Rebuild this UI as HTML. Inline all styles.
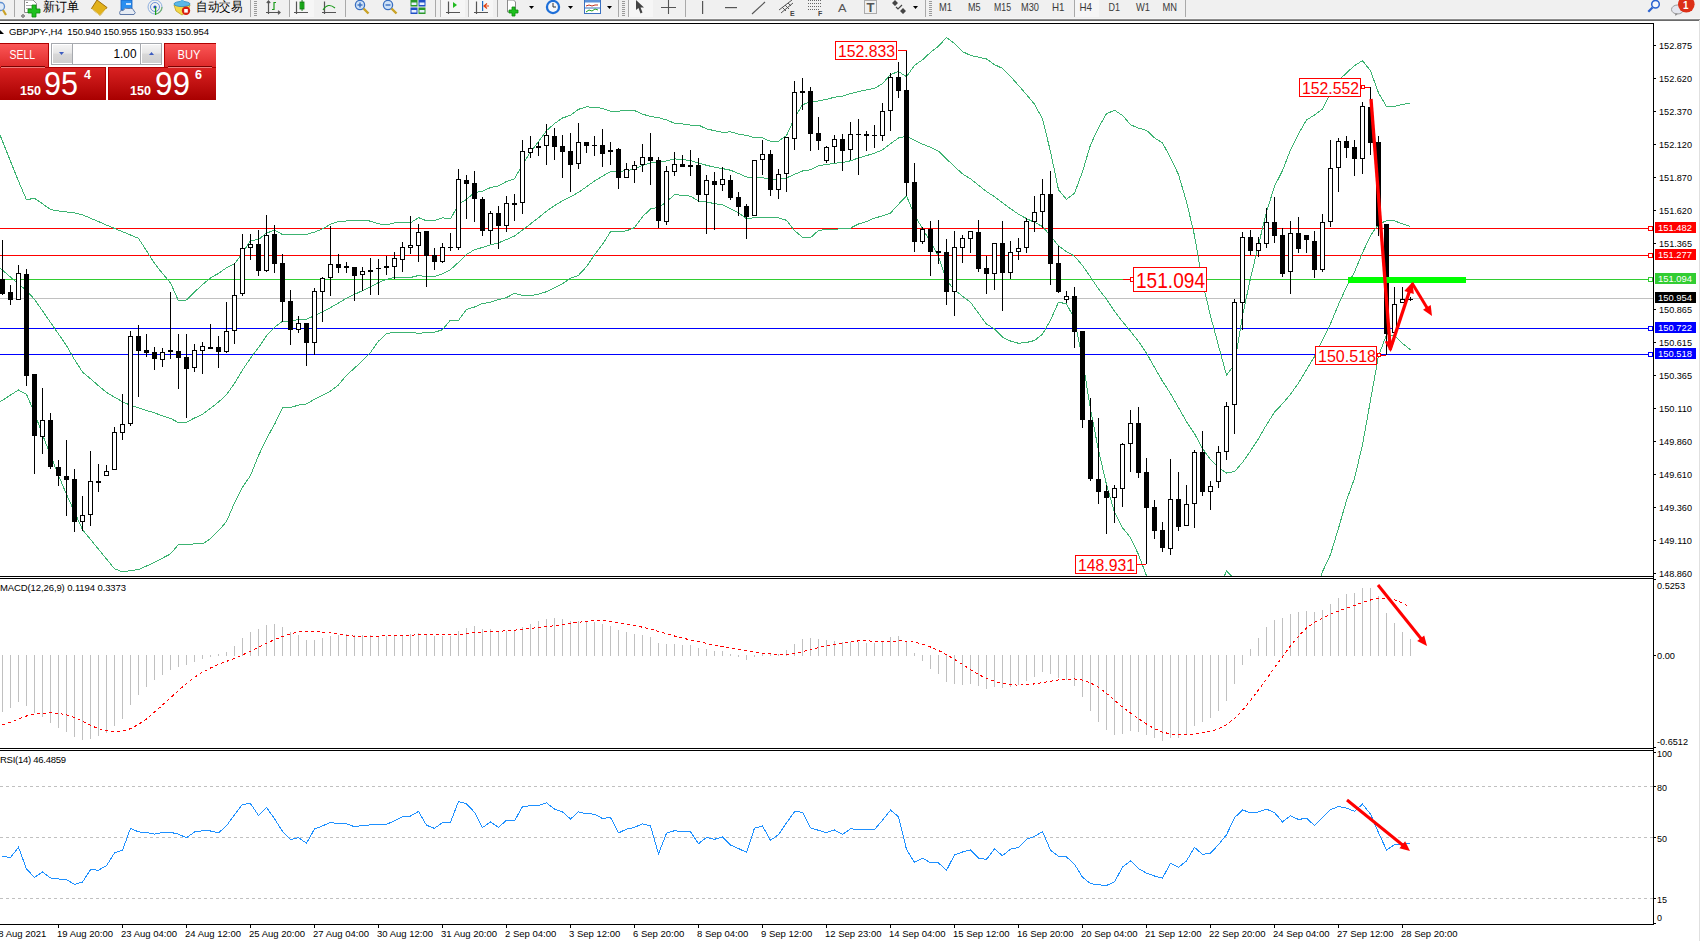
<!DOCTYPE html><html><head><meta charset="utf-8"><style>html,body{margin:0;padding:0;background:#fff;overflow:hidden;width:1700px;height:941px}svg{display:block}text{font-family:"Liberation Sans", sans-serif}</style></head><body>
<svg width="1700" height="941" viewBox="0 0 1700 941">
<defs><clipPath id="cm"><rect x="0" y="24" width="1653" height="552"/></clipPath><clipPath id="cd"><rect x="0" y="579" width="1653" height="169"/></clipPath><clipPath id="cr"><rect x="0" y="751" width="1653" height="173"/></clipPath><linearGradient id="gs" x1="0" y1="0" x2="0" y2="1"><stop offset="0" stop-color="#fb5656"/><stop offset="1" stop-color="#de2a2a"/></linearGradient><linearGradient id="gp" x1="0" y1="0" x2="0" y2="1"><stop offset="0" stop-color="#d92222"/><stop offset="1" stop-color="#a80000"/></linearGradient><linearGradient id="gb" x1="0" y1="0" x2="0" y2="1"><stop offset="0" stop-color="#f4f4f4"/><stop offset="0.45" stop-color="#e6e6e6"/><stop offset="0.5" stop-color="#d8d8d8"/><stop offset="1" stop-color="#cfcfcf"/></linearGradient></defs>
<rect x="0" y="0" width="1700" height="941" fill="#fff"/>
<g id="toolbar">
<rect x="0" y="0" width="1700" height="19" fill="#f0f0f0"/>
<rect x="0" y="18" width="1700" height="1" fill="#f6f6f6"/>
<rect x="0" y="19" width="1700" height="1" fill="#8c8c8c"/>
<rect x="0" y="20" width="1700" height="1" fill="#6a6a6a"/>
<g id="tb">
<!-- magnifier partial -->
<circle cx="0.5" cy="6.5" r="4" fill="#dfeaf7" stroke="#5f8fd0" stroke-width="1.3"/>
<line x1="3" y1="10" x2="6" y2="15" stroke="#c9a227" stroke-width="2.2"/>
<rect x="14" y="0" width="1" height="17" fill="#a9a9a9"/>
<!-- new order -->
<path d="M24.5,0 L33,0 L36.5,3.5 L36.5,12.5 L24.5,12.5 Z" fill="#fff" stroke="#8a8a8a" stroke-width="1"/>
<rect x="26" y="2" width="2" height="1" fill="#888"/><rect x="26" y="5" width="6" height="1" fill="#aaa"/><rect x="26" y="8" width="5" height="1" fill="#aaa"/>
<path d="M32,5 h4 v4 h4 v4 h-4 v4 h-4 v-4 h-4 v-4 h4 z" fill="#1ec01e" stroke="#0a8a0a" stroke-width="0.8"/>
<path d="M23,14.5 l1.5,1.5 l-1.5,1.5 l-1.5,-1.5 z" fill="none" stroke="#000" stroke-width="0.8"/>
<text x="43" y="10.5" font-size="12.5" fill="#000" textLength="36" lengthAdjust="spacingAndGlyphs">新订单</text>
<!-- gold book -->
<path d="M91.5,8.5 L97,0 L107,7.5 L100,15.5 Z" fill="#e2b21c" stroke="#a0700a" stroke-width="1"/>
<path d="M92,9 L100,15.5 L106,9" fill="none" stroke="#fff2b0" stroke-width="0.8"/>
<!-- cloud/server -->
<rect x="121" y="0" width="11" height="10" fill="#2b8ff0" stroke="#1560c0" stroke-width="0.8"/>
<rect x="126" y="3" width="5" height="2" fill="#cfe6ff"/>
<path d="M120,14.5 Q118.5,10 123,10.5 Q125,7 129,8.5 Q133,7.5 134,11 Q136.5,12.5 134,14.5 Z" fill="#e6ebf3" stroke="#5d78a8" stroke-width="1"/>
<!-- signal -->
<circle cx="155" cy="7" r="7" fill="none" stroke="#8fb0e0" stroke-width="1"/>
<circle cx="155" cy="7" r="4.5" fill="none" stroke="#6a90d8" stroke-width="1"/>
<path d="M155,14 A7,7 0 0 0 162,7" fill="none" stroke="#70b070" stroke-width="1.2"/>
<circle cx="155" cy="7" r="1.6" fill="#2050c0"/>
<rect x="155" y="7" width="1.2" height="8" fill="#1aa01a"/>
<!-- auto trading -->
<path d="M176,11 L174,5 L190,5 L188,11 L182,15 Z" fill="#f2d848" stroke="#c0a020" stroke-width="0.8"/>
<ellipse cx="182" cy="4" rx="8" ry="2.6" fill="#5bb8e8" stroke="#2a88c0" stroke-width="0.8"/>
<path d="M179.5,3 L181,0 L183.5,0 L184.5,3 Z" fill="#5bb8e8"/>
<circle cx="186" cy="10.8" r="4.2" fill="#d82010"/>
<rect x="184.2" y="9" width="3.6" height="3.6" fill="#fff"/>
<text x="196" y="10.5" font-size="12.5" fill="#000" textLength="46" lengthAdjust="spacingAndGlyphs">自动交易</text>
<rect x="250" y="0" width="1" height="17" fill="#a9a9a9"/>
<g fill="#9a9a9a"><rect x="254" y="1" width="3" height="1"/><rect x="254" y="3" width="3" height="1"/><rect x="254" y="5" width="3" height="1"/><rect x="254" y="7" width="3" height="1"/><rect x="254" y="9" width="3" height="1"/><rect x="254" y="11" width="3" height="1"/><rect x="254" y="13" width="3" height="1"/><rect x="254" y="15" width="3" height="1"/></g>
<!-- bar chart -->
<g stroke="#555" stroke-width="1.2" fill="none"><path d="M268.5,1.5 V14 M266,12.5 H280"/><path d="M266.8,3 L268.5,1 L270.2,3 M278,10.8 L280,12.5 L278,14.2"/></g>
<path d="M272,9.5 h2 v-7 h2" fill="none" stroke="#1a9a1a" stroke-width="1.2"/>
<rect x="289" y="0" width="1" height="17" fill="#a9a9a9"/>
<rect x="290" y="0" width="24" height="17" fill="#f6f6f6"/>
<!-- candle icon -->
<g stroke="#555" stroke-width="1.2" fill="none"><path d="M296.5,1.5 V14 M294,12.5 H308"/></g>
<rect x="300" y="2" width="4" height="7" fill="#22cc22" stroke="#107010" stroke-width="0.8"/>
<rect x="301.6" y="0" width="0.9" height="11" fill="#107010"/>
<!-- line chart -->
<g stroke="#555" stroke-width="1.2" fill="none"><path d="M324.5,1.5 V14 M322,12.5 H336"/></g>
<path d="M323,10 Q328,2 335,8" fill="none" stroke="#1a9a1a" stroke-width="1.1"/>
<rect x="345" y="0" width="1" height="17" fill="#a9a9a9"/>
<!-- zoom in/out -->
<circle cx="360" cy="5" r="4.6" fill="#cfe2f7" stroke="#3a6fc0" stroke-width="1.3"/>
<rect x="357.5" y="4.3" width="5" height="1.4" fill="#3a6fc0"/><rect x="359.3" y="2.5" width="1.4" height="5" fill="#3a6fc0"/>
<line x1="363.5" y1="8.5" x2="368.5" y2="13.5" stroke="#c9a227" stroke-width="2.4"/>
<circle cx="388" cy="5" r="4.6" fill="#cfe2f7" stroke="#3a6fc0" stroke-width="1.3"/>
<rect x="385.5" y="4.3" width="5" height="1.4" fill="#3a6fc0"/>
<line x1="391.5" y1="8.5" x2="396.5" y2="13.5" stroke="#c9a227" stroke-width="2.4"/>
<!-- tile -->
<rect x="410.5" y="0" width="7" height="6.5" fill="#2a9a2a"/><rect x="418.5" y="0" width="7" height="6.5" fill="#2050c8"/>
<rect x="410.5" y="7.5" width="7" height="6.5" fill="#2050c8"/><rect x="418.5" y="7.5" width="7" height="6.5" fill="#2a9a2a"/>
<g fill="#e8f0ff"><rect x="411.5" y="2.5" width="5" height="2.5"/><rect x="419.5" y="2.5" width="5" height="2.5"/><rect x="411.5" y="10" width="5" height="2.5"/><rect x="419.5" y="10" width="5" height="2.5"/></g>
<rect x="435" y="0" width="1" height="17" fill="#a9a9a9"/>
<rect x="440" y="0" width="1" height="17" fill="#b8b8b8"/>
<rect x="441" y="0" width="24" height="17" fill="#f6f6f6"/>
<g stroke="#555" stroke-width="1.2" fill="none"><path d="M448.5,1.5 V14 M446,12.5 H460"/></g>
<path d="M453,2 L457,5 L453,8 Z" fill="#22bb22"/>
<rect x="468" y="0" width="1" height="17" fill="#b8b8b8"/>
<rect x="469" y="0" width="24" height="17" fill="#f6f6f6"/>
<g stroke="#555" stroke-width="1.2" fill="none"><path d="M476.5,1.5 V14 M474,12.5 H488"/></g>
<rect x="482" y="1" width="1.2" height="10" fill="#1a6ac0"/>
<path d="M487,3.5 L484,6 L487,8.5 M484,6 H489" fill="none" stroke="#e04010" stroke-width="1.2"/>
<rect x="497" y="0" width="1" height="17" fill="#a9a9a9"/>
<!-- indicators -->
<path d="M507.5,0 h6 l2,2 v10 h-8 z" fill="#fff" stroke="#8a8a8a" stroke-width="1"/>
<path d="M512,7 h3 v3 h3 v3 h-3 v3 h-3 v-3 h-3 v-3 h3 z" fill="#1ec01e" stroke="#0a8a0a" stroke-width="0.8"/>
<path d="M529,6 h5 l-2.5,3 z" fill="#000"/>
<!-- clock -->
<circle cx="553" cy="7" r="7.2" fill="#1e6fd8"/>
<circle cx="553" cy="7" r="4.9" fill="#f4f7fb"/>
<path d="M553,3 V7 H556" fill="none" stroke="#333" stroke-width="1"/>
<path d="M568,6 h5 l-2.5,3 z" fill="#000"/>
<!-- templates -->
<rect x="584.5" y="0" width="16" height="13.5" fill="#fff" stroke="#3a70c0" stroke-width="1"/>
<rect x="585" y="0" width="15" height="2.5" fill="#5a90d8"/>
<path d="M586,6 l3,-1 l3,1 l3,-1 l3,0" fill="none" stroke="#c03020" stroke-width="1"/>
<rect x="585" y="7.5" width="15" height="1" fill="#3a70c0"/>
<path d="M586,12 l3,-2 l3,1 l3,-2 l3,1" fill="none" stroke="#20a020" stroke-width="1"/>
<path d="M607,6 h5 l-2.5,3 z" fill="#000"/>
<rect x="618" y="0" width="1" height="17" fill="#a9a9a9"/>
<g fill="#9a9a9a"><rect x="622" y="1" width="3" height="1"/><rect x="622" y="3" width="3" height="1"/><rect x="622" y="5" width="3" height="1"/><rect x="622" y="7" width="3" height="1"/><rect x="622" y="9" width="3" height="1"/><rect x="622" y="11" width="3" height="1"/><rect x="622" y="13" width="3" height="1"/><rect x="622" y="15" width="3" height="1"/></g>
<rect x="628" y="0" width="1" height="17" fill="#a9a9a9"/>
<rect x="629" y="0" width="24" height="17" fill="#f6f6f6"/>
<path d="M636,0 L636,10 L638.5,8 L640.5,13.5 L642.5,12.5 L640.5,7.5 L644,7.5 Z" fill="#444"/>
<path d="M668.5,0 V14 M661,7.5 H676" fill="none" stroke="#555" stroke-width="1.1"/>
<rect x="685" y="0" width="1" height="17" fill="#a9a9a9"/>
<rect x="702" y="1" width="1.2" height="13" fill="#555"/>
<rect x="725" y="7" width="12" height="1.2" fill="#555"/>
<line x1="752" y1="14" x2="765" y2="2" stroke="#555" stroke-width="1.1"/>
<g stroke="#555" stroke-width="1" fill="none"><path d="M779,10 L792,0 M781,13 L793,3"/><path d="M782,7 L786,11 M785,5 L789,9 M788,3 L791,6"/></g>
<text x="790" y="16" font-size="7" fill="#444" font-weight="bold">E</text>
<g stroke="#666" stroke-width="1" stroke-dasharray="1,1" shape-rendering="crispEdges"><line x1="808" y1="0.5" x2="822" y2="0.5"/><line x1="808" y1="3.5" x2="822" y2="3.5"/><line x1="808" y1="6.5" x2="822" y2="6.5"/><line x1="808" y1="9.5" x2="820" y2="9.5"/></g>
<text x="818" y="16" font-size="7" fill="#444" font-weight="bold">F</text>
<text x="838" y="11.5" font-size="11.5" fill="#555" textLength="8.5" lengthAdjust="spacingAndGlyphs">A</text>
<rect x="864.5" y="0.5" width="12" height="13" fill="none" stroke="#666" stroke-width="1" stroke-dasharray="1,1"/>
<text x="866.5" y="12" font-size="12" fill="#555" font-weight="bold" textLength="8" lengthAdjust="spacingAndGlyphs">T</text>
<path d="M895,0 l3,3 l-3,3 l-3,-3 z M903,8 l3,3 l-3,3 l-3,-3 z" fill="#444"/>
<path d="M896,7 l2,2 l4,-4" fill="none" stroke="#444" stroke-width="1.2"/>
<path d="M913,6 h5 l-2.5,3 z" fill="#000"/>
<rect x="925" y="0" width="1" height="17" fill="#a9a9a9"/>
<g fill="#9a9a9a"><rect x="929" y="1" width="3" height="1"/><rect x="929" y="3" width="3" height="1"/><rect x="929" y="5" width="3" height="1"/><rect x="929" y="7" width="3" height="1"/><rect x="929" y="9" width="3" height="1"/><rect x="929" y="11" width="3" height="1"/><rect x="929" y="13" width="3" height="1"/><rect x="929" y="15" width="3" height="1"/></g>
<g font-size="11" fill="#3a3a3a">
<text x="939" y="11" textLength="13" lengthAdjust="spacingAndGlyphs">M1</text>
<text x="968" y="11" textLength="12.5" lengthAdjust="spacingAndGlyphs">M5</text>
<text x="994" y="11" textLength="17" lengthAdjust="spacingAndGlyphs">M15</text>
<text x="1021" y="11" textLength="18" lengthAdjust="spacingAndGlyphs">M30</text>
<text x="1052" y="11" textLength="12.5" lengthAdjust="spacingAndGlyphs">H1</text>
</g>
<rect x="1074" y="0" width="1" height="17" fill="#a9a9a9"/>
<rect x="1075" y="0" width="24" height="17" fill="#f6f6f6"/>
<g font-size="11" fill="#3a3a3a">
<text x="1079.5" y="11" textLength="12.5" lengthAdjust="spacingAndGlyphs">H4</text>
<text x="1108.5" y="11" textLength="11.5" lengthAdjust="spacingAndGlyphs">D1</text>
<text x="1136" y="11" textLength="14" lengthAdjust="spacingAndGlyphs">W1</text>
<text x="1162.5" y="11" textLength="14.5" lengthAdjust="spacingAndGlyphs">MN</text>
</g>
<rect x="1185" y="0" width="1" height="17" fill="#a9a9a9"/>
<!-- search -->
<circle cx="1655.5" cy="4.2" r="3.8" fill="#f4f6fb" stroke="#2a62d0" stroke-width="1.5"/>
<line x1="1652.5" y1="7.5" x2="1648.3" y2="11.8" stroke="#2a62d0" stroke-width="2.2"/>
<!-- chat + badge -->
<ellipse cx="1677.5" cy="9.5" rx="6" ry="4.5" fill="#e4e6ee" stroke="#9a9a9a" stroke-width="1"/>
<path d="M1675,13.5 L1675.5,16 L1678,13.5 Z" fill="#888"/>
<circle cx="1686.3" cy="4.3" r="8.3" fill="#dc3018"/>
<text x="1683" y="8.5" font-size="11" fill="#fff" font-family="Liberation Serif" font-weight="bold" textLength="5.5" lengthAdjust="spacingAndGlyphs">1</text>
</g>

</g>
<rect x="1699" y="20" width="1" height="921" fill="#e0e0e0"/>
<rect x="0" y="23" width="1654" height="1" fill="#000"/>
<rect x="1653" y="23" width="1" height="902" fill="#000"/>
<rect x="0" y="576" width="1654" height="1" fill="#000"/>
<rect x="0" y="578" width="1654" height="1" fill="#000"/>
<rect x="0" y="748" width="1654" height="1" fill="#000"/>
<rect x="0" y="750" width="1654" height="1" fill="#000"/>
<rect x="0" y="924" width="1654" height="1" fill="#000"/>
<g clip-path="url(#cm)">
<rect x="0" y="228" width="1653" height="1" fill="#ff0000"/>
<rect x="0" y="255" width="1653" height="1" fill="#ff0000"/>
<rect x="0" y="279" width="1653" height="1" fill="#32cd32"/>
<rect x="0" y="298" width="1653" height="1" fill="#c0c0c0"/>
<rect x="0" y="328" width="1653" height="1" fill="#0000ff"/>
<rect x="0" y="354" width="1653" height="1" fill="#0000ff"/>
<polyline points="-5.5,121.2 2.5,141.2 10.5,161.2 18.5,181.2 26.5,199.8 34.5,198.2 42.5,203.8 50.5,209.5 58.5,211.0 66.5,212.0 74.5,212.9 82.5,214.8 90.5,218.2 98.5,221.6 106.5,225.1 114.5,228.4 122.5,231.7 130.5,235.0 138.5,238.3 146.5,250.8 154.5,263.4 162.5,273.5 170.5,282.9 178.5,300.9 186.5,300.0 194.5,292.0 202.5,284.6 210.5,277.9 218.5,273.4 226.5,267.8 234.5,263.9 242.5,252.9 250.5,240.7 258.5,239.5 266.5,233.0 274.5,230.3 282.5,234.5 290.5,234.4 298.5,234.1 306.5,234.3 314.5,232.2 322.5,228.9 330.5,224.2 338.5,221.4 346.5,221.0 354.5,220.7 362.5,220.4 370.5,221.1 378.5,223.8 386.5,224.9 394.5,222.9 402.5,222.8 410.5,222.9 418.5,217.6 426.5,220.8 434.5,220.6 442.5,217.8 450.5,219.0 458.5,204.3 466.5,199.4 474.5,192.6 482.5,191.3 490.5,187.5 498.5,185.9 506.5,181.5 514.5,178.7 522.5,164.4 530.5,152.0 538.5,141.5 546.5,130.7 554.5,123.6 562.5,118.0 570.5,115.3 578.5,109.3 586.5,106.9 594.5,107.3 602.5,108.4 610.5,111.2 618.5,111.1 626.5,110.7 634.5,110.5 642.5,114.1 650.5,116.5 658.5,117.6 666.5,119.9 674.5,123.2 682.5,123.9 690.5,125.1 698.5,125.1 706.5,128.8 714.5,130.7 722.5,132.4 730.5,131.8 738.5,134.1 746.5,135.4 754.5,137.7 762.5,137.8 770.5,141.4 778.5,141.2 786.5,135.6 794.5,118.0 802.5,104.8 810.5,101.7 818.5,101.0 826.5,99.4 834.5,97.2 842.5,96.2 850.5,93.6 858.5,91.7 866.5,89.8 874.5,88.3 882.5,83.7 890.5,74.5 898.5,71.6 906.5,76.7 914.5,65.4 922.5,59.8 930.5,52.4 938.5,46.2 946.5,37.5 954.5,43.4 962.5,51.6 970.5,55.4 978.5,57.1 986.5,59.0 994.5,64.6 1002.5,68.4 1010.5,76.4 1018.5,85.4 1026.5,94.6 1034.5,104.2 1042.5,118.9 1050.5,151.6 1058.5,189.8 1066.5,199.3 1074.5,193.3 1082.5,171.6 1090.5,144.9 1098.5,127.6 1106.5,113.8 1114.5,110.2 1122.5,115.4 1130.5,124.7 1138.5,128.1 1146.5,130.3 1154.5,137.8 1162.5,143.0 1170.5,157.6 1178.5,174.6 1186.5,201.6 1194.5,235.6 1202.5,282.2 1210.5,315.9 1218.5,345.7 1226.5,375.1 1234.5,364.5 1242.5,315.7 1250.5,278.2 1258.5,244.9 1266.5,211.9 1274.5,186.3 1282.5,170.6 1290.5,149.9 1298.5,133.8 1306.5,120.0 1314.5,115.0 1322.5,109.0 1330.5,93.0 1338.5,80.7 1346.5,72.9 1354.5,65.6 1362.5,60.7 1370.5,70.8 1378.5,92.9 1386.5,106.6 1394.5,106.3 1402.5,104.5 1410.5,102.9" fill="none" stroke="#3cb371" stroke-width="1" shape-rendering="crispEdges"/>
<polyline points="-5.5,263.4 2.5,270.2 10.5,277.0 18.5,283.8 26.5,290.6 34.5,299.4 42.5,310.9 50.5,322.4 58.5,334.0 66.5,345.5 74.5,359.5 82.5,372.0 90.5,378.8 98.5,385.7 106.5,392.4 114.5,397.1 122.5,401.8 130.5,405.3 138.5,407.8 146.5,410.4 154.5,412.9 162.5,415.8 170.5,418.4 178.5,422.6 186.5,422.3 194.5,418.0 202.5,414.3 210.5,408.3 218.5,402.1 226.5,394.7 234.5,383.4 242.5,370.0 250.5,358.2 258.5,347.6 266.5,335.8 274.5,327.4 282.5,321.3 290.5,320.9 298.5,319.6 306.5,319.1 314.5,315.7 322.5,312.0 330.5,307.6 338.5,303.1 346.5,298.1 354.5,294.4 362.5,290.6 370.5,286.8 378.5,282.5 386.5,279.4 394.5,277.5 402.5,277.5 410.5,277.5 418.5,275.5 426.5,276.6 434.5,276.5 442.5,273.7 450.5,269.6 458.5,262.4 466.5,254.4 474.5,249.8 482.5,247.4 490.5,244.9 498.5,242.8 506.5,239.5 514.5,236.0 522.5,230.0 530.5,223.9 538.5,217.8 546.5,211.2 554.5,205.6 562.5,200.8 570.5,196.8 578.5,192.3 586.5,186.8 594.5,181.0 602.5,176.3 610.5,171.5 618.5,171.4 626.5,170.7 634.5,169.1 642.5,165.4 650.5,162.8 658.5,162.5 666.5,160.9 674.5,158.9 682.5,159.6 690.5,160.6 698.5,163.0 706.5,165.3 714.5,167.2 722.5,168.6 730.5,170.2 738.5,173.5 746.5,177.0 754.5,177.7 762.5,177.7 770.5,179.7 778.5,179.5 786.5,177.9 794.5,174.3 802.5,171.0 810.5,169.7 818.5,165.7 826.5,164.5 834.5,163.3 842.5,162.5 850.5,160.8 858.5,157.9 866.5,155.6 874.5,153.2 882.5,149.8 890.5,143.8 898.5,138.0 906.5,136.3 914.5,140.3 922.5,144.1 930.5,147.2 938.5,151.1 946.5,158.9 954.5,166.6 962.5,173.9 970.5,178.8 978.5,185.2 986.5,191.5 994.5,196.7 1002.5,202.8 1010.5,208.7 1018.5,214.3 1026.5,218.6 1034.5,222.4 1042.5,226.5 1050.5,235.9 1058.5,245.9 1066.5,251.6 1074.5,256.1 1082.5,265.6 1090.5,277.0 1098.5,288.9 1106.5,299.2 1114.5,311.3 1122.5,321.6 1130.5,331.2 1138.5,341.4 1146.5,353.1 1154.5,367.4 1162.5,381.2 1170.5,393.5 1178.5,407.5 1186.5,421.6 1194.5,433.6 1202.5,448.5 1210.5,459.6 1218.5,467.6 1226.5,473.1 1234.5,471.6 1242.5,462.4 1250.5,451.0 1258.5,438.6 1266.5,424.8 1274.5,412.2 1282.5,403.7 1290.5,394.2 1298.5,383.0 1306.5,369.6 1314.5,356.6 1322.5,340.3 1330.5,323.8 1338.5,304.5 1346.5,286.7 1354.5,272.0 1362.5,252.8 1370.5,235.6 1378.5,224.3 1386.5,220.7 1394.5,220.9 1402.5,223.9 1410.5,226.4" fill="none" stroke="#3cb371" stroke-width="1" shape-rendering="crispEdges"/>
<polyline points="-5.5,405.3 2.5,400.2 10.5,395.1 18.5,390.0 26.5,394.4 34.5,412.9 42.5,434.7 50.5,455.1 58.5,475.5 66.5,494.3 74.5,512.1 82.5,529.6 90.5,539.4 98.5,549.2 106.5,559.0 114.5,568.8 122.5,571.8 130.5,570.6 138.5,569.5 146.5,566.0 154.5,562.4 162.5,558.1 170.5,553.9 178.5,544.4 186.5,544.6 194.5,543.9 202.5,544.0 210.5,538.7 218.5,530.8 226.5,521.5 234.5,502.8 242.5,487.1 250.5,475.6 258.5,455.7 266.5,438.6 274.5,424.5 282.5,408.0 290.5,407.5 298.5,405.1 306.5,403.9 314.5,399.2 322.5,395.2 330.5,391.1 338.5,384.9 346.5,375.2 354.5,368.1 362.5,360.8 370.5,352.4 378.5,341.2 386.5,333.8 394.5,332.1 402.5,332.1 410.5,332.1 418.5,333.5 426.5,332.3 434.5,332.3 442.5,329.7 450.5,320.1 458.5,320.4 466.5,309.5 474.5,307.0 482.5,303.5 490.5,302.2 498.5,299.6 506.5,297.6 514.5,293.3 522.5,295.5 530.5,295.8 538.5,294.1 546.5,291.7 554.5,287.7 562.5,283.6 570.5,278.3 578.5,275.3 586.5,266.7 594.5,254.8 602.5,244.3 610.5,231.9 618.5,231.8 626.5,230.8 634.5,227.6 642.5,216.7 650.5,209.0 658.5,207.4 666.5,201.9 674.5,194.6 682.5,195.4 690.5,196.1 698.5,201.0 706.5,201.8 714.5,203.7 722.5,204.7 730.5,208.6 738.5,212.9 746.5,218.7 754.5,217.7 762.5,217.7 770.5,218.0 778.5,217.9 786.5,220.3 794.5,230.6 802.5,237.2 810.5,237.7 818.5,230.4 826.5,229.6 834.5,229.3 842.5,228.7 850.5,228.1 858.5,224.0 866.5,221.5 874.5,218.1 882.5,215.9 890.5,213.0 898.5,204.3 906.5,195.8 914.5,215.2 922.5,228.4 930.5,242.0 938.5,256.1 946.5,280.3 954.5,289.9 962.5,296.2 970.5,302.2 978.5,313.3 986.5,324.1 994.5,328.9 1002.5,337.2 1010.5,341.0 1018.5,343.3 1026.5,342.5 1034.5,340.5 1042.5,334.2 1050.5,320.1 1058.5,302.1 1066.5,303.9 1074.5,318.9 1082.5,359.7 1090.5,409.1 1098.5,450.3 1106.5,484.6 1114.5,512.4 1122.5,527.8 1130.5,537.6 1138.5,554.6 1146.5,575.8 1154.5,597.1 1162.5,619.4 1170.5,629.5 1178.5,640.4 1186.5,641.7 1194.5,631.7 1202.5,614.8 1210.5,603.3 1218.5,589.5 1226.5,571.1 1234.5,578.7 1242.5,609.2 1250.5,623.9 1258.5,632.3 1266.5,637.8 1274.5,638.1 1282.5,636.8 1290.5,638.5 1298.5,632.2 1306.5,619.2 1314.5,598.2 1322.5,571.7 1330.5,554.5 1338.5,528.3 1346.5,500.4 1354.5,478.4 1362.5,444.8 1370.5,400.3 1378.5,355.8 1386.5,334.9 1394.5,335.4 1402.5,343.4 1410.5,349.8" fill="none" stroke="#3cb371" stroke-width="1" shape-rendering="crispEdges"/>
<g shape-rendering="crispEdges">
<rect x="2" y="240" width="1" height="55" fill="#000"/>
<rect x="0" y="279" width="5" height="15" fill="#000"/>
<rect x="10" y="285" width="1" height="20" fill="#000"/>
<rect x="8" y="292" width="5" height="8" fill="#000"/>
<rect x="18" y="265" width="1" height="35" fill="#000"/>
<rect x="16" y="273" width="5" height="27" fill="#000"/>
<rect x="17" y="274" width="3" height="25" fill="#fff"/>
<rect x="26" y="269" width="1" height="117" fill="#000"/>
<rect x="24" y="274" width="5" height="102" fill="#000"/>
<rect x="34" y="374" width="1" height="100" fill="#000"/>
<rect x="32" y="374" width="5" height="62" fill="#000"/>
<rect x="42" y="388" width="1" height="66" fill="#000"/>
<rect x="40" y="420" width="5" height="17" fill="#000"/>
<rect x="41" y="421" width="3" height="15" fill="#fff"/>
<rect x="50" y="413" width="1" height="56" fill="#000"/>
<rect x="48" y="420" width="5" height="47" fill="#000"/>
<rect x="58" y="460" width="1" height="26" fill="#000"/>
<rect x="56" y="467" width="5" height="9" fill="#000"/>
<rect x="66" y="440" width="1" height="76" fill="#000"/>
<rect x="64" y="476" width="5" height="4" fill="#000"/>
<rect x="74" y="469" width="1" height="63" fill="#000"/>
<rect x="72" y="479" width="5" height="43" fill="#000"/>
<rect x="82" y="496" width="1" height="35" fill="#000"/>
<rect x="80" y="515" width="5" height="7" fill="#000"/>
<rect x="81" y="516" width="3" height="5" fill="#fff"/>
<rect x="90" y="451" width="1" height="75" fill="#000"/>
<rect x="88" y="481" width="5" height="34" fill="#000"/>
<rect x="89" y="482" width="3" height="32" fill="#fff"/>
<rect x="98" y="464" width="1" height="28" fill="#000"/>
<rect x="96" y="481" width="5" height="2" fill="#000"/>
<rect x="106" y="465" width="1" height="11" fill="#000"/>
<rect x="104" y="471" width="5" height="5" fill="#000"/>
<rect x="105" y="472" width="3" height="3" fill="#fff"/>
<rect x="114" y="427" width="1" height="43" fill="#000"/>
<rect x="112" y="432" width="5" height="38" fill="#000"/>
<rect x="113" y="433" width="3" height="36" fill="#fff"/>
<rect x="122" y="394" width="1" height="46" fill="#000"/>
<rect x="120" y="424" width="5" height="9" fill="#000"/>
<rect x="121" y="425" width="3" height="7" fill="#fff"/>
<rect x="130" y="331" width="1" height="95" fill="#000"/>
<rect x="128" y="336" width="5" height="88" fill="#000"/>
<rect x="129" y="337" width="3" height="86" fill="#fff"/>
<rect x="138" y="325" width="1" height="72" fill="#000"/>
<rect x="136" y="336" width="5" height="15" fill="#000"/>
<rect x="146" y="334" width="1" height="23" fill="#000"/>
<rect x="144" y="350" width="5" height="3" fill="#000"/>
<rect x="154" y="347" width="1" height="23" fill="#000"/>
<rect x="152" y="352" width="5" height="7" fill="#000"/>
<rect x="162" y="348" width="1" height="19" fill="#000"/>
<rect x="160" y="352" width="5" height="8" fill="#000"/>
<rect x="161" y="353" width="3" height="6" fill="#fff"/>
<rect x="170" y="292" width="1" height="67" fill="#000"/>
<rect x="168" y="350" width="5" height="2" fill="#000"/>
<rect x="178" y="334" width="1" height="55" fill="#000"/>
<rect x="176" y="351" width="5" height="7" fill="#000"/>
<rect x="186" y="334" width="1" height="84" fill="#000"/>
<rect x="184" y="357" width="5" height="12" fill="#000"/>
<rect x="194" y="344" width="1" height="28" fill="#000"/>
<rect x="192" y="350" width="5" height="18" fill="#000"/>
<rect x="193" y="351" width="3" height="16" fill="#fff"/>
<rect x="202" y="342" width="1" height="32" fill="#000"/>
<rect x="200" y="346" width="5" height="5" fill="#000"/>
<rect x="201" y="347" width="3" height="3" fill="#fff"/>
<rect x="210" y="324" width="1" height="25" fill="#000"/>
<rect x="208" y="347" width="5" height="2" fill="#000"/>
<rect x="218" y="336" width="1" height="32" fill="#000"/>
<rect x="216" y="347" width="5" height="5" fill="#000"/>
<rect x="226" y="302" width="1" height="51" fill="#000"/>
<rect x="224" y="331" width="5" height="21" fill="#000"/>
<rect x="225" y="332" width="3" height="19" fill="#fff"/>
<rect x="234" y="263" width="1" height="81" fill="#000"/>
<rect x="232" y="295" width="5" height="36" fill="#000"/>
<rect x="233" y="296" width="3" height="34" fill="#fff"/>
<rect x="242" y="234" width="1" height="62" fill="#000"/>
<rect x="240" y="248" width="5" height="46" fill="#000"/>
<rect x="241" y="249" width="3" height="44" fill="#fff"/>
<rect x="250" y="234" width="1" height="26" fill="#000"/>
<rect x="248" y="244" width="5" height="4" fill="#000"/>
<rect x="249" y="245" width="3" height="2" fill="#fff"/>
<rect x="258" y="230" width="1" height="46" fill="#000"/>
<rect x="256" y="244" width="5" height="27" fill="#000"/>
<rect x="266" y="215" width="1" height="57" fill="#000"/>
<rect x="264" y="235" width="5" height="36" fill="#000"/>
<rect x="265" y="236" width="3" height="34" fill="#fff"/>
<rect x="274" y="225" width="1" height="48" fill="#000"/>
<rect x="272" y="234" width="5" height="30" fill="#000"/>
<rect x="282" y="254" width="1" height="68" fill="#000"/>
<rect x="280" y="263" width="5" height="39" fill="#000"/>
<rect x="290" y="290" width="1" height="55" fill="#000"/>
<rect x="288" y="301" width="5" height="29" fill="#000"/>
<rect x="298" y="316" width="1" height="17" fill="#000"/>
<rect x="296" y="323" width="5" height="7" fill="#000"/>
<rect x="297" y="324" width="3" height="5" fill="#fff"/>
<rect x="306" y="323" width="1" height="43" fill="#000"/>
<rect x="304" y="323" width="5" height="20" fill="#000"/>
<rect x="314" y="288" width="1" height="67" fill="#000"/>
<rect x="312" y="291" width="5" height="52" fill="#000"/>
<rect x="313" y="292" width="3" height="50" fill="#fff"/>
<rect x="322" y="277" width="1" height="45" fill="#000"/>
<rect x="320" y="278" width="5" height="14" fill="#000"/>
<rect x="321" y="279" width="3" height="12" fill="#fff"/>
<rect x="330" y="226" width="1" height="70" fill="#000"/>
<rect x="328" y="264" width="5" height="14" fill="#000"/>
<rect x="329" y="265" width="3" height="12" fill="#fff"/>
<rect x="338" y="254" width="1" height="19" fill="#000"/>
<rect x="336" y="264" width="5" height="4" fill="#000"/>
<rect x="346" y="262" width="1" height="11" fill="#000"/>
<rect x="344" y="266" width="5" height="2" fill="#000"/>
<rect x="354" y="267" width="1" height="34" fill="#000"/>
<rect x="352" y="267" width="5" height="9" fill="#000"/>
<rect x="362" y="267" width="1" height="24" fill="#000"/>
<rect x="360" y="271" width="5" height="4" fill="#000"/>
<rect x="361" y="272" width="3" height="2" fill="#fff"/>
<rect x="370" y="258" width="1" height="37" fill="#000"/>
<rect x="368" y="270" width="5" height="2" fill="#000"/>
<rect x="378" y="259" width="1" height="36" fill="#000"/>
<rect x="376" y="268" width="5" height="1" fill="#000"/>
<rect x="386" y="256" width="1" height="19" fill="#000"/>
<rect x="384" y="266" width="5" height="2" fill="#000"/>
<rect x="394" y="252" width="1" height="27" fill="#000"/>
<rect x="392" y="258" width="5" height="9" fill="#000"/>
<rect x="393" y="259" width="3" height="7" fill="#fff"/>
<rect x="402" y="242" width="1" height="30" fill="#000"/>
<rect x="400" y="247" width="5" height="13" fill="#000"/>
<rect x="401" y="248" width="3" height="11" fill="#fff"/>
<rect x="410" y="216" width="1" height="38" fill="#000"/>
<rect x="408" y="245" width="5" height="3" fill="#000"/>
<rect x="409" y="246" width="3" height="1" fill="#fff"/>
<rect x="418" y="224" width="1" height="38" fill="#000"/>
<rect x="416" y="232" width="5" height="14" fill="#000"/>
<rect x="417" y="233" width="3" height="12" fill="#fff"/>
<rect x="426" y="231" width="1" height="56" fill="#000"/>
<rect x="424" y="231" width="5" height="25" fill="#000"/>
<rect x="434" y="248" width="1" height="22" fill="#000"/>
<rect x="432" y="255" width="5" height="7" fill="#000"/>
<rect x="442" y="243" width="1" height="20" fill="#000"/>
<rect x="440" y="247" width="5" height="15" fill="#000"/>
<rect x="441" y="248" width="3" height="13" fill="#fff"/>
<rect x="450" y="233" width="1" height="18" fill="#000"/>
<rect x="448" y="247" width="5" height="1" fill="#000"/>
<rect x="458" y="169" width="1" height="81" fill="#000"/>
<rect x="456" y="179" width="5" height="69" fill="#000"/>
<rect x="457" y="180" width="3" height="67" fill="#fff"/>
<rect x="466" y="175" width="1" height="44" fill="#000"/>
<rect x="464" y="180" width="5" height="4" fill="#000"/>
<rect x="474" y="171" width="1" height="51" fill="#000"/>
<rect x="472" y="183" width="5" height="16" fill="#000"/>
<rect x="482" y="197" width="1" height="39" fill="#000"/>
<rect x="480" y="199" width="5" height="32" fill="#000"/>
<rect x="490" y="211" width="1" height="33" fill="#000"/>
<rect x="488" y="213" width="5" height="18" fill="#000"/>
<rect x="489" y="214" width="3" height="16" fill="#fff"/>
<rect x="498" y="206" width="1" height="43" fill="#000"/>
<rect x="496" y="213" width="5" height="13" fill="#000"/>
<rect x="506" y="196" width="1" height="36" fill="#000"/>
<rect x="504" y="203" width="5" height="23" fill="#000"/>
<rect x="505" y="204" width="3" height="21" fill="#fff"/>
<rect x="514" y="194" width="1" height="27" fill="#000"/>
<rect x="512" y="203" width="5" height="2" fill="#000"/>
<rect x="522" y="140" width="1" height="74" fill="#000"/>
<rect x="520" y="151" width="5" height="52" fill="#000"/>
<rect x="521" y="152" width="3" height="50" fill="#fff"/>
<rect x="530" y="136" width="1" height="22" fill="#000"/>
<rect x="528" y="148" width="5" height="5" fill="#000"/>
<rect x="529" y="149" width="3" height="3" fill="#fff"/>
<rect x="538" y="142" width="1" height="14" fill="#000"/>
<rect x="536" y="146" width="5" height="2" fill="#000"/>
<rect x="546" y="124" width="1" height="41" fill="#000"/>
<rect x="544" y="135" width="5" height="11" fill="#000"/>
<rect x="545" y="136" width="3" height="9" fill="#fff"/>
<rect x="554" y="128" width="1" height="32" fill="#000"/>
<rect x="552" y="136" width="5" height="11" fill="#000"/>
<rect x="562" y="135" width="1" height="43" fill="#000"/>
<rect x="560" y="146" width="5" height="6" fill="#000"/>
<rect x="570" y="133" width="1" height="59" fill="#000"/>
<rect x="568" y="151" width="5" height="14" fill="#000"/>
<rect x="578" y="123" width="1" height="46" fill="#000"/>
<rect x="576" y="142" width="5" height="22" fill="#000"/>
<rect x="577" y="143" width="3" height="20" fill="#fff"/>
<rect x="586" y="142" width="1" height="11" fill="#000"/>
<rect x="584" y="142" width="5" height="4" fill="#000"/>
<rect x="594" y="136" width="1" height="20" fill="#000"/>
<rect x="592" y="145" width="5" height="1" fill="#000"/>
<rect x="602" y="129" width="1" height="38" fill="#000"/>
<rect x="600" y="145" width="5" height="9" fill="#000"/>
<rect x="610" y="142" width="1" height="23" fill="#000"/>
<rect x="608" y="150" width="5" height="2" fill="#000"/>
<rect x="618" y="148" width="1" height="41" fill="#000"/>
<rect x="616" y="149" width="5" height="29" fill="#000"/>
<rect x="626" y="163" width="1" height="15" fill="#000"/>
<rect x="624" y="169" width="5" height="9" fill="#000"/>
<rect x="625" y="170" width="3" height="7" fill="#fff"/>
<rect x="634" y="161" width="1" height="22" fill="#000"/>
<rect x="632" y="165" width="5" height="5" fill="#000"/>
<rect x="633" y="166" width="3" height="3" fill="#fff"/>
<rect x="642" y="144" width="1" height="28" fill="#000"/>
<rect x="640" y="157" width="5" height="8" fill="#000"/>
<rect x="641" y="158" width="3" height="6" fill="#fff"/>
<rect x="650" y="133" width="1" height="52" fill="#000"/>
<rect x="648" y="157" width="5" height="4" fill="#000"/>
<rect x="658" y="157" width="1" height="71" fill="#000"/>
<rect x="656" y="160" width="5" height="61" fill="#000"/>
<rect x="666" y="166" width="1" height="59" fill="#000"/>
<rect x="664" y="171" width="5" height="51" fill="#000"/>
<rect x="665" y="172" width="3" height="49" fill="#fff"/>
<rect x="674" y="152" width="1" height="24" fill="#000"/>
<rect x="672" y="164" width="5" height="8" fill="#000"/>
<rect x="673" y="165" width="3" height="6" fill="#fff"/>
<rect x="682" y="155" width="1" height="12" fill="#000"/>
<rect x="680" y="164" width="5" height="3" fill="#000"/>
<rect x="690" y="150" width="1" height="26" fill="#000"/>
<rect x="688" y="165" width="5" height="2" fill="#000"/>
<rect x="698" y="158" width="1" height="44" fill="#000"/>
<rect x="696" y="165" width="5" height="30" fill="#000"/>
<rect x="706" y="175" width="1" height="59" fill="#000"/>
<rect x="704" y="180" width="5" height="15" fill="#000"/>
<rect x="705" y="181" width="3" height="13" fill="#fff"/>
<rect x="714" y="172" width="1" height="58" fill="#000"/>
<rect x="712" y="181" width="5" height="4" fill="#000"/>
<rect x="722" y="167" width="1" height="24" fill="#000"/>
<rect x="720" y="179" width="5" height="6" fill="#000"/>
<rect x="721" y="180" width="3" height="4" fill="#fff"/>
<rect x="730" y="175" width="1" height="25" fill="#000"/>
<rect x="728" y="180" width="5" height="18" fill="#000"/>
<rect x="738" y="192" width="1" height="24" fill="#000"/>
<rect x="736" y="197" width="5" height="10" fill="#000"/>
<rect x="746" y="204" width="1" height="35" fill="#000"/>
<rect x="744" y="206" width="5" height="11" fill="#000"/>
<rect x="754" y="160" width="1" height="56" fill="#000"/>
<rect x="752" y="160" width="5" height="56" fill="#000"/>
<rect x="753" y="161" width="3" height="54" fill="#fff"/>
<rect x="762" y="140" width="1" height="35" fill="#000"/>
<rect x="760" y="154" width="5" height="6" fill="#000"/>
<rect x="761" y="155" width="3" height="4" fill="#fff"/>
<rect x="770" y="150" width="1" height="46" fill="#000"/>
<rect x="768" y="154" width="5" height="36" fill="#000"/>
<rect x="778" y="169" width="1" height="30" fill="#000"/>
<rect x="776" y="174" width="5" height="16" fill="#000"/>
<rect x="777" y="175" width="3" height="14" fill="#fff"/>
<rect x="786" y="137" width="1" height="55" fill="#000"/>
<rect x="784" y="137" width="5" height="37" fill="#000"/>
<rect x="785" y="138" width="3" height="35" fill="#fff"/>
<rect x="794" y="81" width="1" height="69" fill="#000"/>
<rect x="792" y="92" width="5" height="47" fill="#000"/>
<rect x="793" y="93" width="3" height="45" fill="#fff"/>
<rect x="802" y="78" width="1" height="32" fill="#000"/>
<rect x="800" y="91" width="5" height="2" fill="#000"/>
<rect x="810" y="87" width="1" height="64" fill="#000"/>
<rect x="808" y="91" width="5" height="43" fill="#000"/>
<rect x="818" y="117" width="1" height="33" fill="#000"/>
<rect x="816" y="133" width="5" height="8" fill="#000"/>
<rect x="826" y="146" width="1" height="17" fill="#000"/>
<rect x="824" y="147" width="5" height="14" fill="#000"/>
<rect x="825" y="148" width="3" height="12" fill="#fff"/>
<rect x="834" y="135" width="1" height="28" fill="#000"/>
<rect x="832" y="139" width="5" height="8" fill="#000"/>
<rect x="833" y="140" width="3" height="6" fill="#fff"/>
<rect x="842" y="134" width="1" height="37" fill="#000"/>
<rect x="840" y="139" width="5" height="12" fill="#000"/>
<rect x="850" y="122" width="1" height="38" fill="#000"/>
<rect x="848" y="134" width="5" height="16" fill="#000"/>
<rect x="849" y="135" width="3" height="14" fill="#fff"/>
<rect x="858" y="119" width="1" height="56" fill="#000"/>
<rect x="856" y="134" width="5" height="1" fill="#000"/>
<rect x="866" y="131" width="1" height="20" fill="#000"/>
<rect x="864" y="134" width="5" height="2" fill="#000"/>
<rect x="874" y="125" width="1" height="23" fill="#000"/>
<rect x="872" y="135" width="5" height="1" fill="#000"/>
<rect x="882" y="103" width="1" height="38" fill="#000"/>
<rect x="880" y="111" width="5" height="25" fill="#000"/>
<rect x="881" y="112" width="3" height="23" fill="#fff"/>
<rect x="890" y="73" width="1" height="58" fill="#000"/>
<rect x="888" y="77" width="5" height="34" fill="#000"/>
<rect x="889" y="78" width="3" height="32" fill="#fff"/>
<rect x="898" y="62" width="1" height="36" fill="#000"/>
<rect x="896" y="77" width="5" height="14" fill="#000"/>
<rect x="906" y="51" width="1" height="145" fill="#000"/>
<rect x="904" y="90" width="5" height="93" fill="#000"/>
<rect x="914" y="163" width="1" height="89" fill="#000"/>
<rect x="912" y="182" width="5" height="60" fill="#000"/>
<rect x="922" y="227" width="1" height="17" fill="#000"/>
<rect x="920" y="229" width="5" height="13" fill="#000"/>
<rect x="921" y="230" width="3" height="11" fill="#fff"/>
<rect x="930" y="221" width="1" height="55" fill="#000"/>
<rect x="928" y="229" width="5" height="23" fill="#000"/>
<rect x="938" y="220" width="1" height="44" fill="#000"/>
<rect x="936" y="251" width="5" height="2" fill="#000"/>
<rect x="946" y="239" width="1" height="66" fill="#000"/>
<rect x="944" y="252" width="5" height="40" fill="#000"/>
<rect x="954" y="231" width="1" height="85" fill="#000"/>
<rect x="952" y="247" width="5" height="45" fill="#000"/>
<rect x="953" y="248" width="3" height="43" fill="#fff"/>
<rect x="962" y="235" width="1" height="28" fill="#000"/>
<rect x="960" y="238" width="5" height="10" fill="#000"/>
<rect x="961" y="239" width="3" height="8" fill="#fff"/>
<rect x="970" y="231" width="1" height="22" fill="#000"/>
<rect x="968" y="231" width="5" height="8" fill="#000"/>
<rect x="969" y="232" width="3" height="6" fill="#fff"/>
<rect x="978" y="220" width="1" height="52" fill="#000"/>
<rect x="976" y="232" width="5" height="37" fill="#000"/>
<rect x="986" y="256" width="1" height="38" fill="#000"/>
<rect x="984" y="268" width="5" height="6" fill="#000"/>
<rect x="994" y="243" width="1" height="47" fill="#000"/>
<rect x="992" y="243" width="5" height="31" fill="#000"/>
<rect x="993" y="244" width="3" height="29" fill="#fff"/>
<rect x="1002" y="221" width="1" height="90" fill="#000"/>
<rect x="1000" y="243" width="5" height="30" fill="#000"/>
<rect x="1010" y="241" width="1" height="38" fill="#000"/>
<rect x="1008" y="252" width="5" height="21" fill="#000"/>
<rect x="1009" y="253" width="3" height="19" fill="#fff"/>
<rect x="1018" y="238" width="1" height="22" fill="#000"/>
<rect x="1016" y="248" width="5" height="4" fill="#000"/>
<rect x="1017" y="249" width="3" height="2" fill="#fff"/>
<rect x="1026" y="218" width="1" height="35" fill="#000"/>
<rect x="1024" y="221" width="5" height="27" fill="#000"/>
<rect x="1025" y="222" width="3" height="25" fill="#fff"/>
<rect x="1034" y="196" width="1" height="36" fill="#000"/>
<rect x="1032" y="212" width="5" height="10" fill="#000"/>
<rect x="1033" y="213" width="3" height="8" fill="#fff"/>
<rect x="1042" y="179" width="1" height="49" fill="#000"/>
<rect x="1040" y="194" width="5" height="18" fill="#000"/>
<rect x="1041" y="195" width="3" height="16" fill="#fff"/>
<rect x="1050" y="171" width="1" height="114" fill="#000"/>
<rect x="1048" y="194" width="5" height="70" fill="#000"/>
<rect x="1058" y="246" width="1" height="47" fill="#000"/>
<rect x="1056" y="263" width="5" height="29" fill="#000"/>
<rect x="1066" y="291" width="1" height="12" fill="#000"/>
<rect x="1064" y="296" width="5" height="4" fill="#000"/>
<rect x="1065" y="297" width="3" height="2" fill="#fff"/>
<rect x="1074" y="287" width="1" height="61" fill="#000"/>
<rect x="1072" y="296" width="5" height="36" fill="#000"/>
<rect x="1082" y="331" width="1" height="97" fill="#000"/>
<rect x="1080" y="331" width="5" height="89" fill="#000"/>
<rect x="1090" y="398" width="1" height="83" fill="#000"/>
<rect x="1088" y="420" width="5" height="59" fill="#000"/>
<rect x="1098" y="418" width="1" height="86" fill="#000"/>
<rect x="1096" y="479" width="5" height="13" fill="#000"/>
<rect x="1106" y="485" width="1" height="49" fill="#000"/>
<rect x="1104" y="491" width="5" height="7" fill="#000"/>
<rect x="1114" y="485" width="1" height="38" fill="#000"/>
<rect x="1112" y="488" width="5" height="10" fill="#000"/>
<rect x="1113" y="489" width="3" height="8" fill="#fff"/>
<rect x="1122" y="443" width="1" height="64" fill="#000"/>
<rect x="1120" y="444" width="5" height="45" fill="#000"/>
<rect x="1121" y="445" width="3" height="43" fill="#fff"/>
<rect x="1130" y="410" width="1" height="62" fill="#000"/>
<rect x="1128" y="423" width="5" height="21" fill="#000"/>
<rect x="1129" y="424" width="3" height="19" fill="#fff"/>
<rect x="1138" y="407" width="1" height="71" fill="#000"/>
<rect x="1136" y="423" width="5" height="50" fill="#000"/>
<rect x="1146" y="458" width="1" height="106" fill="#000"/>
<rect x="1144" y="472" width="5" height="36" fill="#000"/>
<rect x="1154" y="500" width="1" height="39" fill="#000"/>
<rect x="1152" y="507" width="5" height="24" fill="#000"/>
<rect x="1162" y="522" width="1" height="30" fill="#000"/>
<rect x="1160" y="530" width="5" height="18" fill="#000"/>
<rect x="1170" y="459" width="1" height="96" fill="#000"/>
<rect x="1168" y="499" width="5" height="50" fill="#000"/>
<rect x="1169" y="500" width="3" height="48" fill="#fff"/>
<rect x="1178" y="472" width="1" height="59" fill="#000"/>
<rect x="1176" y="499" width="5" height="28" fill="#000"/>
<rect x="1186" y="485" width="1" height="41" fill="#000"/>
<rect x="1184" y="504" width="5" height="22" fill="#000"/>
<rect x="1185" y="505" width="3" height="20" fill="#fff"/>
<rect x="1194" y="450" width="1" height="78" fill="#000"/>
<rect x="1192" y="452" width="5" height="52" fill="#000"/>
<rect x="1193" y="453" width="3" height="50" fill="#fff"/>
<rect x="1202" y="431" width="1" height="65" fill="#000"/>
<rect x="1200" y="452" width="5" height="40" fill="#000"/>
<rect x="1210" y="481" width="1" height="29" fill="#000"/>
<rect x="1208" y="486" width="5" height="6" fill="#000"/>
<rect x="1209" y="487" width="3" height="4" fill="#fff"/>
<rect x="1218" y="446" width="1" height="42" fill="#000"/>
<rect x="1216" y="452" width="5" height="30" fill="#000"/>
<rect x="1217" y="453" width="3" height="28" fill="#fff"/>
<rect x="1226" y="402" width="1" height="58" fill="#000"/>
<rect x="1224" y="406" width="5" height="46" fill="#000"/>
<rect x="1225" y="407" width="3" height="44" fill="#fff"/>
<rect x="1234" y="299" width="1" height="135" fill="#000"/>
<rect x="1232" y="302" width="5" height="103" fill="#000"/>
<rect x="1233" y="303" width="3" height="101" fill="#fff"/>
<rect x="1242" y="232" width="1" height="98" fill="#000"/>
<rect x="1240" y="237" width="5" height="66" fill="#000"/>
<rect x="1241" y="238" width="3" height="64" fill="#fff"/>
<rect x="1250" y="230" width="1" height="25" fill="#000"/>
<rect x="1248" y="237" width="5" height="14" fill="#000"/>
<rect x="1258" y="237" width="1" height="20" fill="#000"/>
<rect x="1256" y="243" width="5" height="8" fill="#000"/>
<rect x="1257" y="244" width="3" height="6" fill="#fff"/>
<rect x="1266" y="208" width="1" height="40" fill="#000"/>
<rect x="1264" y="222" width="5" height="22" fill="#000"/>
<rect x="1265" y="223" width="3" height="20" fill="#fff"/>
<rect x="1274" y="197" width="1" height="46" fill="#000"/>
<rect x="1272" y="222" width="5" height="14" fill="#000"/>
<rect x="1282" y="228" width="1" height="49" fill="#000"/>
<rect x="1280" y="235" width="5" height="39" fill="#000"/>
<rect x="1290" y="221" width="1" height="73" fill="#000"/>
<rect x="1288" y="233" width="5" height="39" fill="#000"/>
<rect x="1289" y="234" width="3" height="37" fill="#fff"/>
<rect x="1298" y="217" width="1" height="36" fill="#000"/>
<rect x="1296" y="233" width="5" height="16" fill="#000"/>
<rect x="1306" y="235" width="1" height="18" fill="#000"/>
<rect x="1304" y="235" width="5" height="5" fill="#000"/>
<rect x="1314" y="231" width="1" height="47" fill="#000"/>
<rect x="1312" y="241" width="5" height="29" fill="#000"/>
<rect x="1322" y="214" width="1" height="58" fill="#000"/>
<rect x="1320" y="222" width="5" height="48" fill="#000"/>
<rect x="1321" y="223" width="3" height="46" fill="#fff"/>
<rect x="1330" y="140" width="1" height="87" fill="#000"/>
<rect x="1328" y="168" width="5" height="54" fill="#000"/>
<rect x="1329" y="169" width="3" height="52" fill="#fff"/>
<rect x="1338" y="138" width="1" height="54" fill="#000"/>
<rect x="1336" y="141" width="5" height="27" fill="#000"/>
<rect x="1337" y="142" width="3" height="25" fill="#fff"/>
<rect x="1346" y="136" width="1" height="22" fill="#000"/>
<rect x="1344" y="141" width="5" height="7" fill="#000"/>
<rect x="1354" y="140" width="1" height="36" fill="#000"/>
<rect x="1352" y="147" width="5" height="12" fill="#000"/>
<rect x="1362" y="102" width="1" height="72" fill="#000"/>
<rect x="1360" y="106" width="5" height="53" fill="#000"/>
<rect x="1361" y="107" width="3" height="51" fill="#fff"/>
<rect x="1370" y="87" width="1" height="68" fill="#000"/>
<rect x="1368" y="107" width="5" height="36" fill="#000"/>
<rect x="1378" y="136" width="1" height="100" fill="#000"/>
<rect x="1376" y="142" width="5" height="84" fill="#000"/>
<rect x="1386" y="224" width="1" height="131" fill="#000"/>
<rect x="1384" y="224" width="5" height="110" fill="#000"/>
<rect x="1394" y="287" width="1" height="46" fill="#000"/>
<rect x="1392" y="304" width="5" height="29" fill="#000"/>
<rect x="1393" y="305" width="3" height="27" fill="#fff"/>
<rect x="1402" y="287" width="1" height="16" fill="#000"/>
<rect x="1400" y="299" width="5" height="4" fill="#000"/>
<rect x="1401" y="300" width="3" height="2" fill="#fff"/>
<rect x="1410" y="297" width="1" height="4" fill="#000"/>
<rect x="1408" y="299" width="5" height="1" fill="#000"/>
</g>
</g>
<g clip-path="url(#cm)">
<g shape-rendering="crispEdges">
<rect x="1648.5" y="226.5" width="4" height="4" fill="#fff" stroke="#ff0000" stroke-width="1"/>
<rect x="1648.5" y="253.5" width="4" height="4" fill="#fff" stroke="#ff0000" stroke-width="1"/>
<rect x="1648.5" y="277.5" width="4" height="4" fill="#fff" stroke="#32cd32" stroke-width="1"/>
<rect x="1648.5" y="326.5" width="4" height="4" fill="#fff" stroke="#0000ff" stroke-width="1"/>
<rect x="1648.5" y="352.5" width="4" height="4" fill="#fff" stroke="#0000ff" stroke-width="1"/>
</g>
<rect x="1348" y="277" width="118" height="6" fill="#00ff00"/>
<rect x="835.5" y="41.5" width="61" height="18" fill="#fff" stroke="#ff0000" stroke-width="1" shape-rendering="crispEdges"/>
<text x="838" y="57" font-size="16.5" fill="#ff0000" textLength="57" lengthAdjust="spacingAndGlyphs">152.833</text>
<polyline points="897.5,50.5 906.5,50.5" fill="none" stroke="#ff0000" stroke-width="1" shape-rendering="crispEdges"/>
<rect x="1299.5" y="78.5" width="61" height="18" fill="#fff" stroke="#ff0000" stroke-width="1" shape-rendering="crispEdges"/>
<text x="1302" y="94" font-size="16.5" fill="#ff0000" textLength="57" lengthAdjust="spacingAndGlyphs">152.552</text>
<rect x="1361.5" y="85.5" width="2.5" height="3" fill="#fff" stroke="#ff0000" stroke-width="1" shape-rendering="crispEdges"/>
<rect x="1364" y="87" width="6" height="1" fill="#ff0000"/>
<rect x="1123" y="279" width="8" height="1" fill="#ff0000"/>
<rect x="1130.5" y="277.5" width="3" height="4" fill="#fff" stroke="#ff0000" stroke-width="1" shape-rendering="crispEdges"/>
<rect x="1133.5" y="267.5" width="73" height="24" fill="#fff" stroke="#ff0000" stroke-width="1" shape-rendering="crispEdges"/>
<text x="1136" y="288" font-size="22" fill="#ff0000" textLength="69" lengthAdjust="spacingAndGlyphs">151.094</text>
<rect x="1315.5" y="346.5" width="61" height="18" fill="#fff" stroke="#ff0000" stroke-width="1" shape-rendering="crispEdges"/>
<text x="1318" y="362" font-size="16.5" fill="#ff0000" textLength="58" lengthAdjust="spacingAndGlyphs">150.518</text>
<rect x="1377.5" y="353.5" width="3" height="3" fill="#fff" stroke="#ff0000" stroke-width="1" shape-rendering="crispEdges"/>
<rect x="1381" y="355" width="5" height="1" fill="#ff0000"/>
<rect x="1075.5" y="555.5" width="61" height="18" fill="#fff" stroke="#ff0000" stroke-width="1" shape-rendering="crispEdges"/>
<text x="1078" y="571" font-size="16.5" fill="#ff0000" textLength="57" lengthAdjust="spacingAndGlyphs">148.931</text>
<rect x="1137" y="564" width="9" height="1" fill="#ff0000"/>
<line x1="1371" y1="99" x2="1389.8" y2="343.0" stroke="#ff0000" stroke-width="3.3" stroke-linecap="butt"/>
<polygon points="1390.5,352 1384.7,341.4 1394.6,340.6" fill="#ff0000"/>
<line x1="1390" y1="350" x2="1409.7" y2="290.5" stroke="#ff0000" stroke-width="3.3" stroke-linecap="butt"/>
<polygon points="1412.5,282 1413.8,294.0 1404.3,290.9" fill="#ff0000"/>
<line x1="1412" y1="283" x2="1427.9" y2="309.2" stroke="#ff0000" stroke-width="3" stroke-linecap="butt"/>
<polygon points="1432,316 1423.0,309.8 1430.7,305.1" fill="#ff0000"/>
</g>
<polygon points="0,30 4,34 0,34" fill="#000"/>
<text x="9" y="35" font-size="9.5" fill="#000" textLength="200">GBPJPY-,H4&#160; 150.940 150.955 150.933 150.954</text>
<g id="panel">
<!-- SELL outline -->
<path d="M0,43 H49 V67 H106 V100 H0 Z" fill="#b00000"/>
<rect x="0" y="44" width="48" height="23" fill="url(#gs)"/>
<rect x="0" y="68" width="105" height="32" fill="url(#gp)"/>
<rect x="48" y="67" width="58" height="1" fill="#b00000"/>
<rect x="1" y="66" width="44" height="1" fill="#7a0000"/>
<rect x="1" y="67" width="44" height="1" fill="#f07a7a"/>
<text x="9.5" y="59" font-size="12.5" fill="#fff" textLength="25.5" lengthAdjust="spacingAndGlyphs">SELL</text>
<text x="20" y="95" font-size="12.5" font-weight="bold" fill="#fff" textLength="21" lengthAdjust="spacingAndGlyphs">150</text>
<text x="44" y="95" font-size="33.5" fill="#fff" textLength="34" lengthAdjust="spacingAndGlyphs">95</text>
<text x="84" y="79" font-size="12.5" font-weight="bold" fill="#fff" textLength="7" lengthAdjust="spacingAndGlyphs">4</text>
<!-- BUY outline -->
<path d="M164,43 H216 V100 H108 V67 H164 Z" fill="#b00000"/>
<rect x="165" y="44" width="51" height="23" fill="url(#gs)"/>
<rect x="109" y="68" width="107" height="32" fill="url(#gp)"/>
<rect x="168" y="66" width="44" height="1" fill="#7a0000"/>
<rect x="168" y="67" width="44" height="1" fill="#f07a7a"/>
<text x="177.5" y="59" font-size="12.5" fill="#fff" textLength="23" lengthAdjust="spacingAndGlyphs">BUY</text>
<text x="130" y="95" font-size="12.5" font-weight="bold" fill="#fff" textLength="21" lengthAdjust="spacingAndGlyphs">150</text>
<text x="155" y="95" font-size="33.5" fill="#fff" textLength="35" lengthAdjust="spacingAndGlyphs">99</text>
<text x="195" y="79" font-size="12.5" font-weight="bold" fill="#fff" textLength="7" lengthAdjust="spacingAndGlyphs">6</text>
<!-- spinner -->
<rect x="51.5" y="43.5" width="110" height="21" fill="#fff" stroke="#a6a9ae" stroke-width="1"/>
<rect x="53" y="45" width="19" height="18" fill="url(#gb)"/>
<rect x="72" y="44" width="1" height="20" fill="#a6a9ae"/>
<rect x="140" y="44" width="1" height="20" fill="#a6a9ae"/>
<rect x="142" y="45" width="19" height="18" fill="url(#gb)"/>
<path d="M59,52 h5 l-2.5,3 z" fill="#3c5cc0"/>
<path d="M149,55 h5 l-2.5,-3 z" fill="#3c5cc0"/>
<text x="113.5" y="58" font-size="12.5" fill="#000" textLength="23" lengthAdjust="spacingAndGlyphs">1.00</text>
</g>

<rect x="1654" y="45" width="2" height="1" fill="#000"/>
<text x="1659" y="49" font-size="9.5" fill="#000" textLength="33" lengthAdjust="spacingAndGlyphs">152.875</text>
<rect x="1654" y="78" width="2" height="1" fill="#000"/>
<text x="1659" y="82" font-size="9.5" fill="#000" textLength="33" lengthAdjust="spacingAndGlyphs">152.620</text>
<rect x="1654" y="111" width="2" height="1" fill="#000"/>
<text x="1659" y="115" font-size="9.5" fill="#000" textLength="33" lengthAdjust="spacingAndGlyphs">152.370</text>
<rect x="1654" y="144" width="2" height="1" fill="#000"/>
<text x="1659" y="148" font-size="9.5" fill="#000" textLength="33" lengthAdjust="spacingAndGlyphs">152.120</text>
<rect x="1654" y="177" width="2" height="1" fill="#000"/>
<text x="1659" y="181" font-size="9.5" fill="#000" textLength="33" lengthAdjust="spacingAndGlyphs">151.870</text>
<rect x="1654" y="210" width="2" height="1" fill="#000"/>
<text x="1659" y="214" font-size="9.5" fill="#000" textLength="33" lengthAdjust="spacingAndGlyphs">151.620</text>
<rect x="1654" y="243" width="2" height="1" fill="#000"/>
<text x="1659" y="247" font-size="9.5" fill="#000" textLength="33" lengthAdjust="spacingAndGlyphs">151.365</text>
<rect x="1654" y="309" width="2" height="1" fill="#000"/>
<text x="1659" y="313" font-size="9.5" fill="#000" textLength="33" lengthAdjust="spacingAndGlyphs">150.865</text>
<rect x="1654" y="342" width="2" height="1" fill="#000"/>
<text x="1659" y="346" font-size="9.5" fill="#000" textLength="33" lengthAdjust="spacingAndGlyphs">150.615</text>
<rect x="1654" y="375" width="2" height="1" fill="#000"/>
<text x="1659" y="379" font-size="9.5" fill="#000" textLength="33" lengthAdjust="spacingAndGlyphs">150.365</text>
<rect x="1654" y="408" width="2" height="1" fill="#000"/>
<text x="1659" y="412" font-size="9.5" fill="#000" textLength="33" lengthAdjust="spacingAndGlyphs">150.110</text>
<rect x="1654" y="441" width="2" height="1" fill="#000"/>
<text x="1659" y="445" font-size="9.5" fill="#000" textLength="33" lengthAdjust="spacingAndGlyphs">149.860</text>
<rect x="1654" y="474" width="2" height="1" fill="#000"/>
<text x="1659" y="478" font-size="9.5" fill="#000" textLength="33" lengthAdjust="spacingAndGlyphs">149.610</text>
<rect x="1654" y="507" width="2" height="1" fill="#000"/>
<text x="1659" y="511" font-size="9.5" fill="#000" textLength="33" lengthAdjust="spacingAndGlyphs">149.360</text>
<rect x="1654" y="540" width="2" height="1" fill="#000"/>
<text x="1659" y="544" font-size="9.5" fill="#000" textLength="33" lengthAdjust="spacingAndGlyphs">149.110</text>
<rect x="1654" y="573" width="2" height="1" fill="#000"/>
<text x="1659" y="577" font-size="9.5" fill="#000" textLength="33" lengthAdjust="spacingAndGlyphs">148.860</text>
<rect x="1655" y="222" width="41" height="11" fill="#ff0000"/>
<text x="1658" y="231" font-size="9.5" fill="#fff" textLength="34" lengthAdjust="spacingAndGlyphs">151.482</text>
<rect x="1655" y="249" width="41" height="11" fill="#ff0000"/>
<text x="1658" y="258" font-size="9.5" fill="#fff" textLength="34" lengthAdjust="spacingAndGlyphs">151.277</text>
<rect x="1655" y="273" width="41" height="11" fill="#32cd32"/>
<text x="1658" y="282" font-size="9.5" fill="#fff" textLength="34" lengthAdjust="spacingAndGlyphs">151.094</text>
<rect x="1655" y="292" width="41" height="11" fill="#000000"/>
<text x="1658" y="301" font-size="9.5" fill="#fff" textLength="34" lengthAdjust="spacingAndGlyphs">150.954</text>
<rect x="1655" y="322" width="41" height="11" fill="#0000ff"/>
<text x="1658" y="331" font-size="9.5" fill="#fff" textLength="34" lengthAdjust="spacingAndGlyphs">150.722</text>
<rect x="1655" y="348" width="41" height="11" fill="#0000ff"/>
<text x="1658" y="357" font-size="9.5" fill="#fff" textLength="34" lengthAdjust="spacingAndGlyphs">150.518</text>
<g clip-path="url(#cd)">
<g shape-rendering="crispEdges">
<rect x="2" y="655" width="1" height="57" fill="#c0c0c0"/>
<rect x="10" y="655" width="1" height="53" fill="#c0c0c0"/>
<rect x="18" y="655" width="1" height="47" fill="#c0c0c0"/>
<rect x="26" y="655" width="1" height="51" fill="#c0c0c0"/>
<rect x="34" y="655" width="1" height="58" fill="#c0c0c0"/>
<rect x="42" y="655" width="1" height="62" fill="#c0c0c0"/>
<rect x="50" y="655" width="1" height="68" fill="#c0c0c0"/>
<rect x="58" y="655" width="1" height="73" fill="#c0c0c0"/>
<rect x="66" y="655" width="1" height="77" fill="#c0c0c0"/>
<rect x="74" y="655" width="1" height="82" fill="#c0c0c0"/>
<rect x="82" y="655" width="1" height="85" fill="#c0c0c0"/>
<rect x="90" y="655" width="1" height="84" fill="#c0c0c0"/>
<rect x="98" y="655" width="1" height="81" fill="#c0c0c0"/>
<rect x="106" y="655" width="1" height="78" fill="#c0c0c0"/>
<rect x="114" y="655" width="1" height="71" fill="#c0c0c0"/>
<rect x="122" y="655" width="1" height="64" fill="#c0c0c0"/>
<rect x="130" y="655" width="1" height="50" fill="#c0c0c0"/>
<rect x="138" y="655" width="1" height="40" fill="#c0c0c0"/>
<rect x="146" y="655" width="1" height="32" fill="#c0c0c0"/>
<rect x="154" y="655" width="1" height="25" fill="#c0c0c0"/>
<rect x="162" y="655" width="1" height="20" fill="#c0c0c0"/>
<rect x="170" y="655" width="1" height="15" fill="#c0c0c0"/>
<rect x="178" y="655" width="1" height="12" fill="#c0c0c0"/>
<rect x="186" y="655" width="1" height="10" fill="#c0c0c0"/>
<rect x="194" y="655" width="1" height="7" fill="#c0c0c0"/>
<rect x="202" y="655" width="1" height="4" fill="#c0c0c0"/>
<rect x="210" y="655" width="1" height="2" fill="#c0c0c0"/>
<rect x="218" y="654" width="1" height="2" fill="#c0c0c0"/>
<rect x="226" y="652" width="1" height="4" fill="#c0c0c0"/>
<rect x="234" y="646" width="1" height="10" fill="#c0c0c0"/>
<rect x="242" y="638" width="1" height="18" fill="#c0c0c0"/>
<rect x="250" y="632" width="1" height="24" fill="#c0c0c0"/>
<rect x="258" y="629" width="1" height="27" fill="#c0c0c0"/>
<rect x="266" y="625" width="1" height="31" fill="#c0c0c0"/>
<rect x="274" y="624" width="1" height="32" fill="#c0c0c0"/>
<rect x="282" y="627" width="1" height="29" fill="#c0c0c0"/>
<rect x="290" y="632" width="1" height="24" fill="#c0c0c0"/>
<rect x="298" y="635" width="1" height="21" fill="#c0c0c0"/>
<rect x="306" y="640" width="1" height="16" fill="#c0c0c0"/>
<rect x="314" y="640" width="1" height="16" fill="#c0c0c0"/>
<rect x="322" y="638" width="1" height="18" fill="#c0c0c0"/>
<rect x="330" y="636" width="1" height="20" fill="#c0c0c0"/>
<rect x="338" y="635" width="1" height="21" fill="#c0c0c0"/>
<rect x="346" y="634" width="1" height="22" fill="#c0c0c0"/>
<rect x="354" y="635" width="1" height="21" fill="#c0c0c0"/>
<rect x="362" y="635" width="1" height="21" fill="#c0c0c0"/>
<rect x="370" y="635" width="1" height="21" fill="#c0c0c0"/>
<rect x="378" y="636" width="1" height="20" fill="#c0c0c0"/>
<rect x="386" y="636" width="1" height="20" fill="#c0c0c0"/>
<rect x="394" y="636" width="1" height="20" fill="#c0c0c0"/>
<rect x="402" y="635" width="1" height="21" fill="#c0c0c0"/>
<rect x="410" y="634" width="1" height="22" fill="#c0c0c0"/>
<rect x="418" y="633" width="1" height="23" fill="#c0c0c0"/>
<rect x="426" y="634" width="1" height="22" fill="#c0c0c0"/>
<rect x="434" y="636" width="1" height="20" fill="#c0c0c0"/>
<rect x="442" y="636" width="1" height="20" fill="#c0c0c0"/>
<rect x="450" y="636" width="1" height="20" fill="#c0c0c0"/>
<rect x="458" y="631" width="1" height="25" fill="#c0c0c0"/>
<rect x="466" y="628" width="1" height="28" fill="#c0c0c0"/>
<rect x="474" y="626" width="1" height="30" fill="#c0c0c0"/>
<rect x="482" y="629" width="1" height="27" fill="#c0c0c0"/>
<rect x="490" y="629" width="1" height="27" fill="#c0c0c0"/>
<rect x="498" y="631" width="1" height="25" fill="#c0c0c0"/>
<rect x="506" y="631" width="1" height="25" fill="#c0c0c0"/>
<rect x="514" y="631" width="1" height="25" fill="#c0c0c0"/>
<rect x="522" y="627" width="1" height="29" fill="#c0c0c0"/>
<rect x="530" y="624" width="1" height="32" fill="#c0c0c0"/>
<rect x="538" y="621" width="1" height="35" fill="#c0c0c0"/>
<rect x="546" y="619" width="1" height="37" fill="#c0c0c0"/>
<rect x="554" y="618" width="1" height="38" fill="#c0c0c0"/>
<rect x="562" y="619" width="1" height="37" fill="#c0c0c0"/>
<rect x="570" y="621" width="1" height="35" fill="#c0c0c0"/>
<rect x="578" y="621" width="1" height="35" fill="#c0c0c0"/>
<rect x="586" y="621" width="1" height="35" fill="#c0c0c0"/>
<rect x="594" y="622" width="1" height="34" fill="#c0c0c0"/>
<rect x="602" y="624" width="1" height="32" fill="#c0c0c0"/>
<rect x="610" y="626" width="1" height="30" fill="#c0c0c0"/>
<rect x="618" y="630" width="1" height="26" fill="#c0c0c0"/>
<rect x="626" y="632" width="1" height="24" fill="#c0c0c0"/>
<rect x="634" y="634" width="1" height="22" fill="#c0c0c0"/>
<rect x="642" y="635" width="1" height="21" fill="#c0c0c0"/>
<rect x="650" y="637" width="1" height="19" fill="#c0c0c0"/>
<rect x="658" y="643" width="1" height="13" fill="#c0c0c0"/>
<rect x="666" y="644" width="1" height="12" fill="#c0c0c0"/>
<rect x="674" y="644" width="1" height="12" fill="#c0c0c0"/>
<rect x="682" y="645" width="1" height="11" fill="#c0c0c0"/>
<rect x="690" y="645" width="1" height="11" fill="#c0c0c0"/>
<rect x="698" y="648" width="1" height="8" fill="#c0c0c0"/>
<rect x="706" y="649" width="1" height="7" fill="#c0c0c0"/>
<rect x="714" y="651" width="1" height="5" fill="#c0c0c0"/>
<rect x="722" y="651" width="1" height="5" fill="#c0c0c0"/>
<rect x="730" y="654" width="1" height="2" fill="#c0c0c0"/>
<rect x="738" y="655" width="1" height="2" fill="#c0c0c0"/>
<rect x="746" y="655" width="1" height="5" fill="#c0c0c0"/>
<rect x="754" y="655" width="1" height="2" fill="#c0c0c0"/>
<rect x="762" y="653" width="1" height="3" fill="#c0c0c0"/>
<rect x="770" y="654" width="1" height="2" fill="#c0c0c0"/>
<rect x="778" y="654" width="1" height="2" fill="#c0c0c0"/>
<rect x="786" y="650" width="1" height="6" fill="#c0c0c0"/>
<rect x="794" y="644" width="1" height="12" fill="#c0c0c0"/>
<rect x="802" y="639" width="1" height="17" fill="#c0c0c0"/>
<rect x="810" y="638" width="1" height="18" fill="#c0c0c0"/>
<rect x="818" y="639" width="1" height="17" fill="#c0c0c0"/>
<rect x="826" y="640" width="1" height="16" fill="#c0c0c0"/>
<rect x="834" y="641" width="1" height="15" fill="#c0c0c0"/>
<rect x="842" y="642" width="1" height="14" fill="#c0c0c0"/>
<rect x="850" y="642" width="1" height="14" fill="#c0c0c0"/>
<rect x="858" y="642" width="1" height="14" fill="#c0c0c0"/>
<rect x="866" y="643" width="1" height="13" fill="#c0c0c0"/>
<rect x="874" y="643" width="1" height="13" fill="#c0c0c0"/>
<rect x="882" y="641" width="1" height="15" fill="#c0c0c0"/>
<rect x="890" y="637" width="1" height="19" fill="#c0c0c0"/>
<rect x="898" y="636" width="1" height="20" fill="#c0c0c0"/>
<rect x="906" y="642" width="1" height="14" fill="#c0c0c0"/>
<rect x="914" y="653" width="1" height="3" fill="#c0c0c0"/>
<rect x="922" y="655" width="1" height="6" fill="#c0c0c0"/>
<rect x="930" y="655" width="1" height="14" fill="#c0c0c0"/>
<rect x="938" y="655" width="1" height="19" fill="#c0c0c0"/>
<rect x="946" y="655" width="1" height="27" fill="#c0c0c0"/>
<rect x="954" y="655" width="1" height="29" fill="#c0c0c0"/>
<rect x="962" y="655" width="1" height="30" fill="#c0c0c0"/>
<rect x="970" y="655" width="1" height="29" fill="#c0c0c0"/>
<rect x="978" y="655" width="1" height="31" fill="#c0c0c0"/>
<rect x="986" y="655" width="1" height="34" fill="#c0c0c0"/>
<rect x="994" y="655" width="1" height="32" fill="#c0c0c0"/>
<rect x="1002" y="655" width="1" height="33" fill="#c0c0c0"/>
<rect x="1010" y="655" width="1" height="32" fill="#c0c0c0"/>
<rect x="1018" y="655" width="1" height="30" fill="#c0c0c0"/>
<rect x="1026" y="655" width="1" height="26" fill="#c0c0c0"/>
<rect x="1034" y="655" width="1" height="22" fill="#c0c0c0"/>
<rect x="1042" y="655" width="1" height="17" fill="#c0c0c0"/>
<rect x="1050" y="655" width="1" height="19" fill="#c0c0c0"/>
<rect x="1058" y="655" width="1" height="23" fill="#c0c0c0"/>
<rect x="1066" y="655" width="1" height="25" fill="#c0c0c0"/>
<rect x="1074" y="655" width="1" height="31" fill="#c0c0c0"/>
<rect x="1082" y="655" width="1" height="42" fill="#c0c0c0"/>
<rect x="1090" y="655" width="1" height="56" fill="#c0c0c0"/>
<rect x="1098" y="655" width="1" height="67" fill="#c0c0c0"/>
<rect x="1106" y="655" width="1" height="75" fill="#c0c0c0"/>
<rect x="1114" y="655" width="1" height="80" fill="#c0c0c0"/>
<rect x="1122" y="655" width="1" height="79" fill="#c0c0c0"/>
<rect x="1130" y="655" width="1" height="76" fill="#c0c0c0"/>
<rect x="1138" y="655" width="1" height="77" fill="#c0c0c0"/>
<rect x="1146" y="655" width="1" height="80" fill="#c0c0c0"/>
<rect x="1154" y="655" width="1" height="83" fill="#c0c0c0"/>
<rect x="1162" y="655" width="1" height="86" fill="#c0c0c0"/>
<rect x="1170" y="655" width="1" height="83" fill="#c0c0c0"/>
<rect x="1178" y="655" width="1" height="83" fill="#c0c0c0"/>
<rect x="1186" y="655" width="1" height="79" fill="#c0c0c0"/>
<rect x="1194" y="655" width="1" height="71" fill="#c0c0c0"/>
<rect x="1202" y="655" width="1" height="67" fill="#c0c0c0"/>
<rect x="1210" y="655" width="1" height="63" fill="#c0c0c0"/>
<rect x="1218" y="655" width="1" height="56" fill="#c0c0c0"/>
<rect x="1226" y="655" width="1" height="46" fill="#c0c0c0"/>
<rect x="1234" y="655" width="1" height="29" fill="#c0c0c0"/>
<rect x="1242" y="655" width="1" height="10" fill="#c0c0c0"/>
<rect x="1250" y="649" width="1" height="7" fill="#c0c0c0"/>
<rect x="1258" y="638" width="1" height="18" fill="#c0c0c0"/>
<rect x="1266" y="627" width="1" height="29" fill="#c0c0c0"/>
<rect x="1274" y="620" width="1" height="36" fill="#c0c0c0"/>
<rect x="1282" y="618" width="1" height="38" fill="#c0c0c0"/>
<rect x="1290" y="614" width="1" height="42" fill="#c0c0c0"/>
<rect x="1298" y="612" width="1" height="44" fill="#c0c0c0"/>
<rect x="1306" y="611" width="1" height="45" fill="#c0c0c0"/>
<rect x="1314" y="612" width="1" height="44" fill="#c0c0c0"/>
<rect x="1322" y="610" width="1" height="46" fill="#c0c0c0"/>
<rect x="1330" y="604" width="1" height="52" fill="#c0c0c0"/>
<rect x="1338" y="598" width="1" height="58" fill="#c0c0c0"/>
<rect x="1346" y="594" width="1" height="62" fill="#c0c0c0"/>
<rect x="1354" y="593" width="1" height="63" fill="#c0c0c0"/>
<rect x="1362" y="588" width="1" height="68" fill="#c0c0c0"/>
<rect x="1370" y="588" width="1" height="68" fill="#c0c0c0"/>
<rect x="1378" y="596" width="1" height="60" fill="#c0c0c0"/>
<rect x="1386" y="613" width="1" height="43" fill="#c0c0c0"/>
<rect x="1394" y="623" width="1" height="33" fill="#c0c0c0"/>
<rect x="1402" y="632" width="1" height="24" fill="#c0c0c0"/>
<rect x="1410" y="639" width="1" height="17" fill="#c0c0c0"/>
</g>
<polyline points="2.5,724.9 10.5,722.3 18.5,718.9 26.5,716.0 34.5,714.0 42.5,713.1 50.5,712.9 58.5,713.3 66.5,714.8 74.5,717.6 82.5,721.2 90.5,725.3 98.5,728.7 106.5,730.8 114.5,731.8 122.5,731.3 130.5,728.7 138.5,724.5 146.5,718.9 154.5,712.2 162.5,705.1 170.5,697.8 178.5,690.4 186.5,683.6 194.5,677.3 202.5,672.2 210.5,668.0 218.5,664.5 226.5,661.4 234.5,658.4 242.5,655.0 250.5,651.2 258.5,647.4 266.5,643.4 274.5,639.6 282.5,636.4 290.5,633.8 298.5,632.0 306.5,631.3 314.5,631.5 322.5,632.2 330.5,633.0 338.5,634.1 346.5,635.3 354.5,636.2 362.5,636.6 370.5,636.6 378.5,636.1 386.5,635.7 394.5,635.4 402.5,635.2 410.5,635.1 418.5,634.9 426.5,634.8 434.5,634.9 442.5,634.9 450.5,635.0 458.5,634.5 466.5,633.6 474.5,632.6 482.5,632.0 490.5,631.6 498.5,631.3 506.5,630.8 514.5,630.2 522.5,629.2 530.5,628.3 538.5,627.6 546.5,626.8 554.5,625.7 562.5,624.5 570.5,623.4 578.5,622.3 586.5,621.2 594.5,620.7 602.5,620.8 610.5,621.3 618.5,622.5 626.5,624.0 634.5,625.7 642.5,627.2 650.5,629.0 658.5,631.4 666.5,633.8 674.5,636.0 682.5,638.1 690.5,639.9 698.5,641.7 706.5,643.4 714.5,645.1 722.5,646.8 730.5,648.0 738.5,649.3 746.5,650.9 754.5,652.2 762.5,653.1 770.5,653.8 778.5,654.3 786.5,654.3 794.5,653.4 802.5,651.7 810.5,649.8 818.5,647.6 826.5,645.8 834.5,644.4 842.5,643.1 850.5,641.8 858.5,640.9 866.5,640.8 874.5,641.3 882.5,641.6 890.5,641.4 898.5,640.9 906.5,641.1 914.5,642.2 922.5,644.2 930.5,647.0 938.5,650.4 946.5,654.7 954.5,659.3 962.5,664.4 970.5,669.7 978.5,674.5 986.5,678.4 994.5,681.2 1002.5,683.4 1010.5,684.8 1018.5,685.1 1026.5,684.8 1034.5,683.9 1042.5,682.6 1050.5,681.2 1058.5,679.9 1066.5,679.2 1074.5,678.9 1082.5,680.1 1090.5,682.9 1098.5,687.4 1106.5,693.3 1114.5,700.3 1122.5,707.1 1130.5,713.0 1138.5,718.7 1146.5,724.1 1154.5,728.7 1162.5,732.1 1170.5,733.9 1178.5,734.8 1186.5,734.7 1194.5,733.8 1202.5,732.8 1210.5,731.3 1218.5,728.8 1226.5,724.7 1234.5,718.4 1242.5,710.2 1250.5,700.5 1258.5,689.9 1266.5,679.0 1274.5,667.7 1282.5,656.7 1290.5,645.9 1298.5,636.1 1306.5,628.1 1314.5,622.4 1322.5,618.0 1330.5,614.3 1338.5,611.1 1346.5,608.2 1354.5,605.4 1362.5,602.6 1370.5,600.0 1378.5,598.4 1386.5,598.4 1394.5,599.9 1402.5,602.9 1410.5,607.4" fill="none" stroke="#ff0000" stroke-width="1" stroke-dasharray="3,3" shape-rendering="crispEdges"/>
</g>
<line x1="1378" y1="585" x2="1422.0" y2="639.8" stroke="#ff0000" stroke-width="3" stroke-linecap="butt"/>
<polygon points="1427,646 1417.2,641.0 1424.2,635.4" fill="#ff0000"/>
<text x="0" y="591" font-size="9.5" fill="#000" textLength="126">MACD(12,26,9) 0.1194 0.3373</text>
<rect x="1654" y="579" width="2" height="1" fill="#000"/>
<text x="1657" y="589" font-size="9.5" fill="#000" textLength="28" lengthAdjust="spacingAndGlyphs">0.5253</text>
<rect x="1654" y="655" width="2" height="1" fill="#000"/>
<text x="1657" y="659" font-size="9.5" fill="#000" textLength="18" lengthAdjust="spacingAndGlyphs">0.00</text>
<rect x="1654" y="747" width="2" height="1" fill="#000"/>
<text x="1657" y="745" font-size="9.5" fill="#000" textLength="31" lengthAdjust="spacingAndGlyphs">-0.6512</text>
<g clip-path="url(#cr)">
<line x1="0" y1="786.5" x2="1653" y2="786.5" stroke="#c0c0c0" stroke-width="1" stroke-dasharray="3,3"/>
<line x1="0" y1="837.5" x2="1653" y2="837.5" stroke="#c0c0c0" stroke-width="1" stroke-dasharray="3,3"/>
<line x1="0" y1="898.5" x2="1653" y2="898.5" stroke="#c0c0c0" stroke-width="1" stroke-dasharray="3,3"/>
<polyline points="2.5,856.1 10.5,857.6 18.5,847.2 26.5,869.0 34.5,877.4 42.5,872.0 50.5,878.0 58.5,879.0 66.5,879.6 74.5,884.4 82.5,882.0 90.5,869.8 98.5,870.1 106.5,865.8 114.5,852.9 122.5,850.3 130.5,828.3 138.5,831.9 146.5,832.4 154.5,834.1 162.5,832.4 170.5,832.3 178.5,834.2 186.5,837.8 194.5,832.0 202.5,830.7 210.5,831.0 218.5,832.9 226.5,825.7 234.5,815.0 242.5,804.3 250.5,803.6 258.5,815.5 266.5,807.5 274.5,818.7 282.5,831.4 290.5,839.6 298.5,837.7 306.5,843.2 314.5,829.0 322.5,825.9 330.5,822.5 338.5,823.7 346.5,823.7 354.5,826.8 362.5,825.4 370.5,824.9 378.5,824.2 386.5,824.3 394.5,820.8 402.5,816.9 410.5,816.0 418.5,811.5 426.5,825.2 434.5,828.4 442.5,822.4 450.5,822.3 458.5,801.4 466.5,803.9 474.5,812.3 482.5,827.6 490.5,821.9 498.5,827.4 506.5,820.2 514.5,820.9 522.5,806.6 530.5,805.7 538.5,805.4 546.5,802.8 554.5,809.1 562.5,811.9 570.5,819.0 578.5,811.8 586.5,813.8 594.5,814.1 602.5,818.6 610.5,817.4 618.5,832.9 626.5,829.2 634.5,827.4 642.5,823.8 650.5,825.9 658.5,853.9 666.5,833.2 674.5,830.7 682.5,831.8 690.5,831.8 698.5,843.7 706.5,837.5 714.5,839.3 722.5,836.9 730.5,845.0 738.5,848.5 746.5,852.4 754.5,828.1 762.5,826.0 770.5,840.3 778.5,834.6 786.5,822.9 794.5,811.8 802.5,812.1 810.5,827.9 818.5,830.3 826.5,832.6 834.5,830.0 842.5,834.3 850.5,828.9 858.5,829.2 866.5,829.5 874.5,829.5 882.5,820.2 890.5,810.1 898.5,816.8 906.5,849.5 914.5,862.4 922.5,858.2 930.5,862.7 938.5,862.9 946.5,870.3 954.5,854.9 962.5,852.0 970.5,849.8 978.5,858.2 986.5,859.3 994.5,848.9 1002.5,855.7 1010.5,849.1 1018.5,847.6 1026.5,839.3 1034.5,836.5 1042.5,831.5 1050.5,850.2 1058.5,856.4 1066.5,857.0 1074.5,864.2 1082.5,877.2 1090.5,883.6 1098.5,884.8 1106.5,885.4 1114.5,881.9 1122.5,867.1 1130.5,860.8 1138.5,868.5 1146.5,873.2 1154.5,876.0 1162.5,878.1 1170.5,863.2 1178.5,867.3 1186.5,860.9 1194.5,847.4 1202.5,854.4 1210.5,853.1 1218.5,844.6 1226.5,834.8 1234.5,817.8 1242.5,809.9 1250.5,812.9 1258.5,811.9 1266.5,809.2 1274.5,812.6 1282.5,821.9 1290.5,815.8 1298.5,819.5 1306.5,818.2 1314.5,825.5 1322.5,817.5 1330.5,809.8 1338.5,806.4 1346.5,808.1 1354.5,811.3 1362.5,804.1 1370.5,814.0 1378.5,832.7 1386.5,850.0 1394.5,844.8 1402.5,843.9 1410.5,843.8" fill="none" stroke="#1e90ff" stroke-width="1" shape-rendering="crispEdges"/>
</g>
<line x1="1347" y1="800" x2="1403.8" y2="846.0" stroke="#ff0000" stroke-width="3" stroke-linecap="butt"/>
<polygon points="1410,851 1399.4,848.2 1405.1,841.2" fill="#ff0000"/>
<text x="0" y="763" font-size="9.5" fill="#000" textLength="66">RSI(14) 46.4859</text>
<rect x="1654" y="752" width="2" height="1" fill="#000"/>
<text x="1657" y="757" font-size="9.5" fill="#000" textLength="15" lengthAdjust="spacingAndGlyphs">100</text>
<rect x="1654" y="786" width="2" height="1" fill="#000"/>
<text x="1657" y="791" font-size="9.5" fill="#000" textLength="10" lengthAdjust="spacingAndGlyphs">80</text>
<rect x="1654" y="837" width="2" height="1" fill="#000"/>
<text x="1657" y="842" font-size="9.5" fill="#000" textLength="10" lengthAdjust="spacingAndGlyphs">50</text>
<rect x="1654" y="898" width="2" height="1" fill="#000"/>
<text x="1657" y="903" font-size="9.5" fill="#000" textLength="10" lengthAdjust="spacingAndGlyphs">15</text>
<rect x="1654" y="923" width="2" height="1" fill="#000"/>
<text x="1657" y="921" font-size="9.5" fill="#000" textLength="5" lengthAdjust="spacingAndGlyphs">0</text>
<text x="-7" y="937" font-size="9.5" fill="#000">18 Aug 2021</text>
<rect x="58" y="925" width="1" height="3" fill="#000"/>
<text x="57" y="937" font-size="9.5" fill="#000">19 Aug 20:00</text>
<rect x="122" y="925" width="1" height="3" fill="#000"/>
<text x="121" y="937" font-size="9.5" fill="#000">23 Aug 04:00</text>
<rect x="186" y="925" width="1" height="3" fill="#000"/>
<text x="185" y="937" font-size="9.5" fill="#000">24 Aug 12:00</text>
<rect x="250" y="925" width="1" height="3" fill="#000"/>
<text x="249" y="937" font-size="9.5" fill="#000">25 Aug 20:00</text>
<rect x="314" y="925" width="1" height="3" fill="#000"/>
<text x="313" y="937" font-size="9.5" fill="#000">27 Aug 04:00</text>
<rect x="378" y="925" width="1" height="3" fill="#000"/>
<text x="377" y="937" font-size="9.5" fill="#000">30 Aug 12:00</text>
<rect x="442" y="925" width="1" height="3" fill="#000"/>
<text x="441" y="937" font-size="9.5" fill="#000">31 Aug 20:00</text>
<rect x="506" y="925" width="1" height="3" fill="#000"/>
<text x="505" y="937" font-size="9.5" fill="#000">2 Sep 04:00</text>
<rect x="570" y="925" width="1" height="3" fill="#000"/>
<text x="569" y="937" font-size="9.5" fill="#000">3 Sep 12:00</text>
<rect x="634" y="925" width="1" height="3" fill="#000"/>
<text x="633" y="937" font-size="9.5" fill="#000">6 Sep 20:00</text>
<rect x="698" y="925" width="1" height="3" fill="#000"/>
<text x="697" y="937" font-size="9.5" fill="#000">8 Sep 04:00</text>
<rect x="762" y="925" width="1" height="3" fill="#000"/>
<text x="761" y="937" font-size="9.5" fill="#000">9 Sep 12:00</text>
<rect x="826" y="925" width="1" height="3" fill="#000"/>
<text x="825" y="937" font-size="9.5" fill="#000">12 Sep 23:00</text>
<rect x="890" y="925" width="1" height="3" fill="#000"/>
<text x="889" y="937" font-size="9.5" fill="#000">14 Sep 04:00</text>
<rect x="954" y="925" width="1" height="3" fill="#000"/>
<text x="953" y="937" font-size="9.5" fill="#000">15 Sep 12:00</text>
<rect x="1018" y="925" width="1" height="3" fill="#000"/>
<text x="1017" y="937" font-size="9.5" fill="#000">16 Sep 20:00</text>
<rect x="1082" y="925" width="1" height="3" fill="#000"/>
<text x="1081" y="937" font-size="9.5" fill="#000">20 Sep 04:00</text>
<rect x="1146" y="925" width="1" height="3" fill="#000"/>
<text x="1145" y="937" font-size="9.5" fill="#000">21 Sep 12:00</text>
<rect x="1210" y="925" width="1" height="3" fill="#000"/>
<text x="1209" y="937" font-size="9.5" fill="#000">22 Sep 20:00</text>
<rect x="1274" y="925" width="1" height="3" fill="#000"/>
<text x="1273" y="937" font-size="9.5" fill="#000">24 Sep 04:00</text>
<rect x="1338" y="925" width="1" height="3" fill="#000"/>
<text x="1337" y="937" font-size="9.5" fill="#000">27 Sep 12:00</text>
<rect x="1402" y="925" width="1" height="3" fill="#000"/>
<text x="1401" y="937" font-size="9.5" fill="#000">28 Sep 20:00</text>
</svg></body></html>
